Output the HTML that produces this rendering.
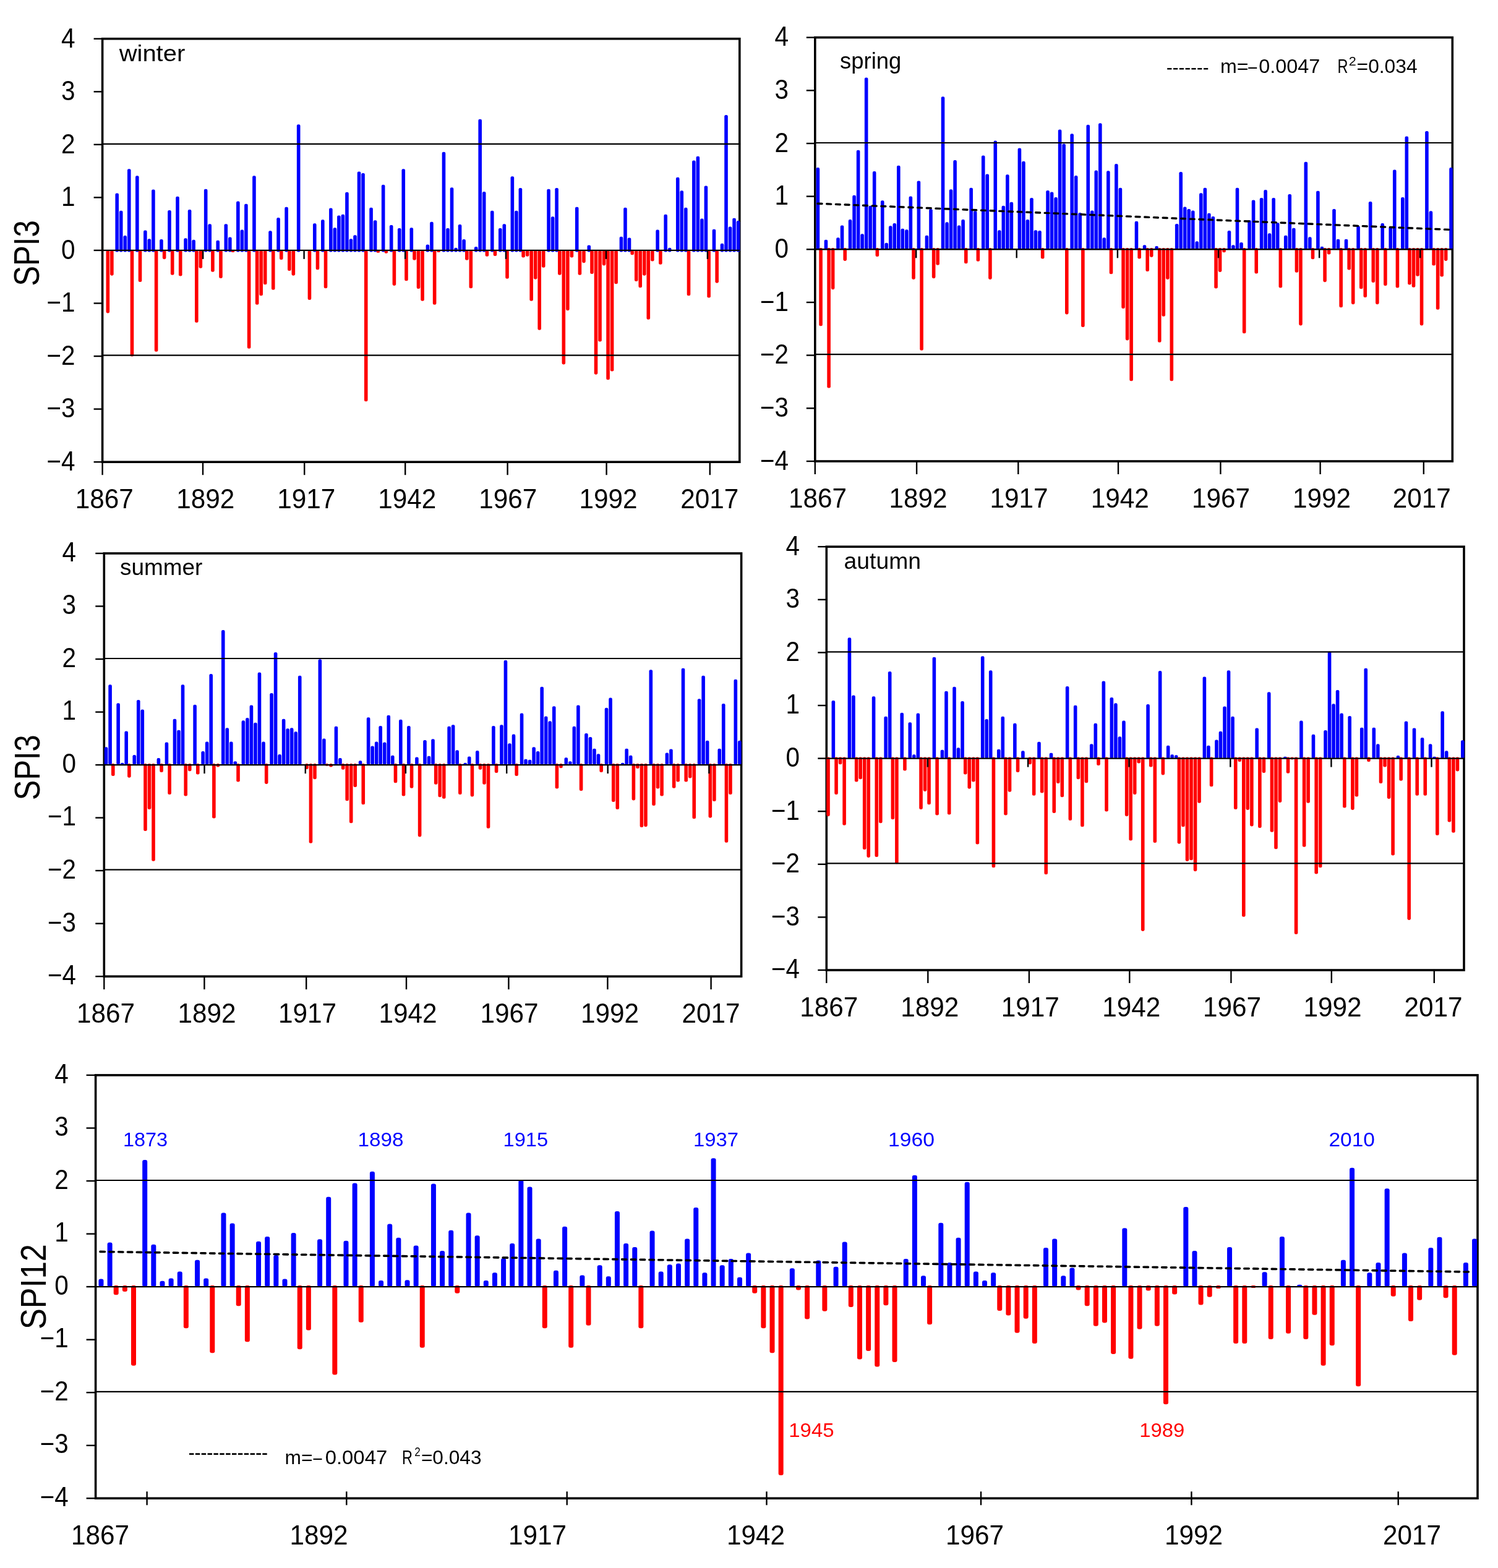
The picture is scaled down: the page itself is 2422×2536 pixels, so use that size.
<!DOCTYPE html>
<html><head><meta charset="utf-8"><title>SPI</title><style>html,body{margin:0;padding:0;background:#fff;}svg{display:block;}</style></head><body>
<svg width="2422" height="2536" viewBox="0 0 2422 2536" font-family="'Liberation Sans', Arial, sans-serif">
<rect width="2422" height="2536" fill="#fff"/>
<rect x="165.6" y="62.7" width="1030.2" height="684.5" fill="none" stroke="#000" stroke-width="3.6"/>
<rect x="171.54" y="404.95" width="5.6" height="101.46" rx="2.3" fill="#ff0000"/>
<rect x="178.06" y="404.95" width="5.6" height="40.71" rx="2.3" fill="#ff0000"/>
<rect x="186.39" y="312.54" width="5.6" height="94.91" rx="2.3" fill="#0000ff"/>
<rect x="192.91" y="340.78" width="5.6" height="66.67" rx="2.3" fill="#0000ff"/>
<rect x="199.44" y="380.99" width="5.6" height="26.46" rx="2.3" fill="#0000ff"/>
<rect x="205.96" y="273.18" width="5.6" height="134.27" rx="2.3" fill="#0000ff"/>
<rect x="210.67" y="404.95" width="5.6" height="171.63" rx="2.3" fill="#ff0000"/>
<rect x="219.00" y="284.31" width="5.6" height="123.14" rx="2.3" fill="#0000ff"/>
<rect x="223.71" y="404.95" width="5.6" height="50.98" rx="2.3" fill="#ff0000"/>
<rect x="232.05" y="372.44" width="5.6" height="35.01" rx="2.3" fill="#0000ff"/>
<rect x="238.57" y="386.13" width="5.6" height="21.32" rx="2.3" fill="#0000ff"/>
<rect x="245.09" y="306.55" width="5.6" height="100.90" rx="2.3" fill="#0000ff"/>
<rect x="249.80" y="404.95" width="5.6" height="163.92" rx="2.3" fill="#ff0000"/>
<rect x="258.13" y="386.98" width="5.6" height="20.47" rx="2.3" fill="#0000ff"/>
<rect x="262.84" y="404.95" width="5.6" height="14.19" rx="2.3" fill="#ff0000"/>
<rect x="271.18" y="339.92" width="5.6" height="67.53" rx="2.3" fill="#0000ff"/>
<rect x="275.89" y="404.95" width="5.6" height="39.86" rx="2.3" fill="#ff0000"/>
<rect x="284.22" y="317.68" width="5.6" height="89.77" rx="2.3" fill="#0000ff"/>
<rect x="288.93" y="404.95" width="5.6" height="41.57" rx="2.3" fill="#ff0000"/>
<rect x="297.27" y="385.27" width="5.6" height="22.18" rx="2.3" fill="#0000ff"/>
<rect x="303.79" y="339.07" width="5.6" height="68.38" rx="2.3" fill="#0000ff"/>
<rect x="310.31" y="387.84" width="5.6" height="19.61" rx="2.3" fill="#0000ff"/>
<rect x="315.02" y="404.95" width="5.6" height="116.87" rx="2.3" fill="#ff0000"/>
<rect x="321.54" y="404.95" width="5.6" height="28.74" rx="2.3" fill="#ff0000"/>
<rect x="329.88" y="305.70" width="5.6" height="101.75" rx="2.3" fill="#0000ff"/>
<rect x="336.40" y="362.17" width="5.6" height="45.28" rx="2.3" fill="#0000ff"/>
<rect x="341.11" y="404.95" width="5.6" height="34.73" rx="2.3" fill="#ff0000"/>
<rect x="349.44" y="388.69" width="5.6" height="18.76" rx="2.3" fill="#0000ff"/>
<rect x="354.15" y="404.95" width="5.6" height="44.99" rx="2.3" fill="#ff0000"/>
<rect x="362.49" y="362.17" width="5.6" height="45.28" rx="2.3" fill="#0000ff"/>
<rect x="369.01" y="383.56" width="5.6" height="23.89" rx="2.3" fill="#0000ff"/>
<rect x="373.72" y="404.95" width="5.6" height="3.07" rx="2.3" fill="#ff0000"/>
<rect x="382.05" y="325.38" width="5.6" height="82.07" rx="2.3" fill="#0000ff"/>
<rect x="388.57" y="371.58" width="5.6" height="35.87" rx="2.3" fill="#0000ff"/>
<rect x="395.10" y="329.65" width="5.6" height="77.80" rx="2.3" fill="#0000ff"/>
<rect x="399.81" y="404.95" width="5.6" height="158.79" rx="2.3" fill="#ff0000"/>
<rect x="408.14" y="284.31" width="5.6" height="123.14" rx="2.3" fill="#0000ff"/>
<rect x="412.85" y="404.95" width="5.6" height="87.77" rx="2.3" fill="#ff0000"/>
<rect x="419.37" y="404.95" width="5.6" height="73.23" rx="2.3" fill="#ff0000"/>
<rect x="425.89" y="404.95" width="5.6" height="55.26" rx="2.3" fill="#ff0000"/>
<rect x="434.23" y="373.29" width="5.6" height="34.16" rx="2.3" fill="#0000ff"/>
<rect x="438.94" y="404.95" width="5.6" height="63.82" rx="2.3" fill="#ff0000"/>
<rect x="447.27" y="351.90" width="5.6" height="55.55" rx="2.3" fill="#0000ff"/>
<rect x="451.98" y="404.95" width="5.6" height="15.05" rx="2.3" fill="#ff0000"/>
<rect x="460.32" y="334.79" width="5.6" height="72.66" rx="2.3" fill="#0000ff"/>
<rect x="465.03" y="404.95" width="5.6" height="33.01" rx="2.3" fill="#ff0000"/>
<rect x="471.55" y="404.95" width="5.6" height="40.71" rx="2.3" fill="#ff0000"/>
<rect x="479.88" y="201.31" width="5.6" height="206.14" rx="2.3" fill="#0000ff"/>
<rect x="497.64" y="404.95" width="5.6" height="80.07" rx="2.3" fill="#ff0000"/>
<rect x="505.97" y="361.31" width="5.6" height="46.14" rx="2.3" fill="#0000ff"/>
<rect x="510.68" y="404.95" width="5.6" height="31.30" rx="2.3" fill="#ff0000"/>
<rect x="519.01" y="355.32" width="5.6" height="52.13" rx="2.3" fill="#0000ff"/>
<rect x="523.72" y="404.95" width="5.6" height="61.25" rx="2.3" fill="#ff0000"/>
<rect x="532.06" y="336.50" width="5.6" height="70.95" rx="2.3" fill="#0000ff"/>
<rect x="538.58" y="368.16" width="5.6" height="39.29" rx="2.3" fill="#0000ff"/>
<rect x="545.10" y="348.48" width="5.6" height="58.97" rx="2.3" fill="#0000ff"/>
<rect x="551.62" y="346.77" width="5.6" height="60.68" rx="2.3" fill="#0000ff"/>
<rect x="558.15" y="310.83" width="5.6" height="96.62" rx="2.3" fill="#0000ff"/>
<rect x="564.67" y="386.13" width="5.6" height="21.32" rx="2.3" fill="#0000ff"/>
<rect x="571.19" y="380.14" width="5.6" height="27.31" rx="2.3" fill="#0000ff"/>
<rect x="577.71" y="277.46" width="5.6" height="129.99" rx="2.3" fill="#0000ff"/>
<rect x="584.23" y="280.03" width="5.6" height="127.42" rx="2.3" fill="#0000ff"/>
<rect x="588.94" y="404.95" width="5.6" height="244.35" rx="2.3" fill="#ff0000"/>
<rect x="597.28" y="335.64" width="5.6" height="71.81" rx="2.3" fill="#0000ff"/>
<rect x="603.80" y="356.18" width="5.6" height="51.27" rx="2.3" fill="#0000ff"/>
<rect x="608.51" y="404.95" width="5.6" height="3.92" rx="2.3" fill="#ff0000"/>
<rect x="616.84" y="298.85" width="5.6" height="108.60" rx="2.3" fill="#0000ff"/>
<rect x="621.55" y="404.95" width="5.6" height="4.78" rx="2.3" fill="#ff0000"/>
<rect x="629.89" y="363.88" width="5.6" height="43.57" rx="2.3" fill="#0000ff"/>
<rect x="634.60" y="404.95" width="5.6" height="56.97" rx="2.3" fill="#ff0000"/>
<rect x="642.93" y="369.01" width="5.6" height="38.44" rx="2.3" fill="#0000ff"/>
<rect x="649.45" y="273.18" width="5.6" height="134.27" rx="2.3" fill="#0000ff"/>
<rect x="654.16" y="404.95" width="5.6" height="49.27" rx="2.3" fill="#ff0000"/>
<rect x="662.50" y="368.16" width="5.6" height="39.29" rx="2.3" fill="#0000ff"/>
<rect x="667.21" y="404.95" width="5.6" height="15.90" rx="2.3" fill="#ff0000"/>
<rect x="673.73" y="404.95" width="5.6" height="62.11" rx="2.3" fill="#ff0000"/>
<rect x="680.25" y="404.95" width="5.6" height="81.78" rx="2.3" fill="#ff0000"/>
<rect x="688.59" y="395.54" width="5.6" height="11.91" rx="2.3" fill="#0000ff"/>
<rect x="695.11" y="358.75" width="5.6" height="48.70" rx="2.3" fill="#0000ff"/>
<rect x="699.82" y="404.95" width="5.6" height="87.77" rx="2.3" fill="#ff0000"/>
<rect x="706.34" y="404.95" width="5.6" height="3.07" rx="2.3" fill="#ff0000"/>
<rect x="714.67" y="245.80" width="5.6" height="161.65" rx="2.3" fill="#0000ff"/>
<rect x="721.20" y="369.01" width="5.6" height="38.44" rx="2.3" fill="#0000ff"/>
<rect x="727.72" y="303.13" width="5.6" height="104.32" rx="2.3" fill="#0000ff"/>
<rect x="734.24" y="400.67" width="5.6" height="6.78" rx="2.3" fill="#0000ff"/>
<rect x="740.76" y="363.02" width="5.6" height="44.43" rx="2.3" fill="#0000ff"/>
<rect x="747.28" y="386.98" width="5.6" height="20.47" rx="2.3" fill="#0000ff"/>
<rect x="751.99" y="404.95" width="5.6" height="15.90" rx="2.3" fill="#ff0000"/>
<rect x="758.52" y="404.95" width="5.6" height="61.25" rx="2.3" fill="#ff0000"/>
<rect x="766.85" y="398.96" width="5.6" height="8.49" rx="2.3" fill="#0000ff"/>
<rect x="773.37" y="192.75" width="5.6" height="214.69" rx="2.3" fill="#0000ff"/>
<rect x="779.89" y="309.98" width="5.6" height="97.47" rx="2.3" fill="#0000ff"/>
<rect x="784.60" y="404.95" width="5.6" height="9.91" rx="2.3" fill="#ff0000"/>
<rect x="792.94" y="340.78" width="5.6" height="66.67" rx="2.3" fill="#0000ff"/>
<rect x="797.65" y="404.95" width="5.6" height="9.06" rx="2.3" fill="#ff0000"/>
<rect x="805.98" y="369.01" width="5.6" height="38.44" rx="2.3" fill="#0000ff"/>
<rect x="812.50" y="362.17" width="5.6" height="45.28" rx="2.3" fill="#0000ff"/>
<rect x="817.21" y="404.95" width="5.6" height="45.85" rx="2.3" fill="#ff0000"/>
<rect x="825.55" y="285.16" width="5.6" height="122.29" rx="2.3" fill="#0000ff"/>
<rect x="832.07" y="340.78" width="5.6" height="66.67" rx="2.3" fill="#0000ff"/>
<rect x="838.59" y="303.99" width="5.6" height="103.46" rx="2.3" fill="#0000ff"/>
<rect x="843.30" y="404.95" width="5.6" height="11.62" rx="2.3" fill="#ff0000"/>
<rect x="849.82" y="404.95" width="5.6" height="9.91" rx="2.3" fill="#ff0000"/>
<rect x="856.35" y="404.95" width="5.6" height="81.78" rx="2.3" fill="#ff0000"/>
<rect x="862.87" y="404.95" width="5.6" height="46.70" rx="2.3" fill="#ff0000"/>
<rect x="869.39" y="404.95" width="5.6" height="128.84" rx="2.3" fill="#ff0000"/>
<rect x="875.91" y="404.95" width="5.6" height="27.88" rx="2.3" fill="#ff0000"/>
<rect x="884.25" y="305.70" width="5.6" height="101.75" rx="2.3" fill="#0000ff"/>
<rect x="890.77" y="350.19" width="5.6" height="57.26" rx="2.3" fill="#0000ff"/>
<rect x="897.29" y="303.99" width="5.6" height="103.46" rx="2.3" fill="#0000ff"/>
<rect x="902.00" y="404.95" width="5.6" height="39.86" rx="2.3" fill="#ff0000"/>
<rect x="908.52" y="404.95" width="5.6" height="184.46" rx="2.3" fill="#ff0000"/>
<rect x="915.04" y="404.95" width="5.6" height="97.19" rx="2.3" fill="#ff0000"/>
<rect x="921.57" y="404.95" width="5.6" height="11.62" rx="2.3" fill="#ff0000"/>
<rect x="929.90" y="334.79" width="5.6" height="72.66" rx="2.3" fill="#0000ff"/>
<rect x="934.61" y="404.95" width="5.6" height="39.86" rx="2.3" fill="#ff0000"/>
<rect x="941.13" y="404.95" width="5.6" height="20.18" rx="2.3" fill="#ff0000"/>
<rect x="949.47" y="396.39" width="5.6" height="11.06" rx="2.3" fill="#0000ff"/>
<rect x="954.18" y="404.95" width="5.6" height="38.15" rx="2.3" fill="#ff0000"/>
<rect x="960.70" y="404.95" width="5.6" height="200.72" rx="2.3" fill="#ff0000"/>
<rect x="967.22" y="404.95" width="5.6" height="147.67" rx="2.3" fill="#ff0000"/>
<rect x="973.74" y="404.95" width="5.6" height="24.46" rx="2.3" fill="#ff0000"/>
<rect x="980.26" y="404.95" width="5.6" height="209.27" rx="2.3" fill="#ff0000"/>
<rect x="986.79" y="404.95" width="5.6" height="195.58" rx="2.3" fill="#ff0000"/>
<rect x="993.31" y="404.95" width="5.6" height="54.40" rx="2.3" fill="#ff0000"/>
<rect x="1001.64" y="382.70" width="5.6" height="24.75" rx="2.3" fill="#0000ff"/>
<rect x="1008.16" y="335.64" width="5.6" height="71.81" rx="2.3" fill="#0000ff"/>
<rect x="1014.69" y="384.41" width="5.6" height="23.04" rx="2.3" fill="#0000ff"/>
<rect x="1019.40" y="404.95" width="5.6" height="7.35" rx="2.3" fill="#ff0000"/>
<rect x="1025.92" y="404.95" width="5.6" height="50.13" rx="2.3" fill="#ff0000"/>
<rect x="1032.44" y="404.95" width="5.6" height="60.39" rx="2.3" fill="#ff0000"/>
<rect x="1038.96" y="404.95" width="5.6" height="40.71" rx="2.3" fill="#ff0000"/>
<rect x="1045.48" y="404.95" width="5.6" height="111.73" rx="2.3" fill="#ff0000"/>
<rect x="1052.01" y="404.95" width="5.6" height="17.61" rx="2.3" fill="#ff0000"/>
<rect x="1060.34" y="371.58" width="5.6" height="35.87" rx="2.3" fill="#0000ff"/>
<rect x="1065.05" y="404.95" width="5.6" height="22.75" rx="2.3" fill="#ff0000"/>
<rect x="1073.38" y="346.77" width="5.6" height="60.68" rx="2.3" fill="#0000ff"/>
<rect x="1079.91" y="400.67" width="5.6" height="6.78" rx="2.3" fill="#0000ff"/>
<rect x="1092.95" y="286.87" width="5.6" height="120.58" rx="2.3" fill="#0000ff"/>
<rect x="1099.47" y="308.26" width="5.6" height="99.19" rx="2.3" fill="#0000ff"/>
<rect x="1105.99" y="335.64" width="5.6" height="71.81" rx="2.3" fill="#0000ff"/>
<rect x="1110.70" y="404.95" width="5.6" height="73.23" rx="2.3" fill="#ff0000"/>
<rect x="1119.04" y="259.49" width="5.6" height="147.96" rx="2.3" fill="#0000ff"/>
<rect x="1125.56" y="252.65" width="5.6" height="154.80" rx="2.3" fill="#0000ff"/>
<rect x="1132.08" y="353.61" width="5.6" height="53.84" rx="2.3" fill="#0000ff"/>
<rect x="1138.60" y="300.56" width="5.6" height="106.89" rx="2.3" fill="#0000ff"/>
<rect x="1143.31" y="404.95" width="5.6" height="76.65" rx="2.3" fill="#ff0000"/>
<rect x="1151.65" y="370.72" width="5.6" height="36.73" rx="2.3" fill="#0000ff"/>
<rect x="1156.36" y="404.95" width="5.6" height="52.69" rx="2.3" fill="#ff0000"/>
<rect x="1164.69" y="393.83" width="5.6" height="13.62" rx="2.3" fill="#0000ff"/>
<rect x="1171.21" y="185.91" width="5.6" height="221.54" rx="2.3" fill="#0000ff"/>
<rect x="1177.74" y="366.45" width="5.6" height="41.00" rx="2.3" fill="#0000ff"/>
<rect x="1184.26" y="352.76" width="5.6" height="54.69" rx="2.3" fill="#0000ff"/>
<rect x="1190.78" y="357.03" width="5.6" height="50.42" rx="2.3" fill="#0000ff"/>
<line x1="165.6" y1="232.8" x2="1195.8" y2="232.8" stroke="#000" stroke-width="2.2"/>
<line x1="165.6" y1="574.7" x2="1195.8" y2="574.7" stroke="#000" stroke-width="2.2"/>
<line x1="165.6" y1="404.9" x2="1195.8" y2="404.9" stroke="#000" stroke-width="2.4"/>
<line x1="328.2" y1="404.9" x2="328.2" y2="418.9" stroke="#000" stroke-width="2.4"/>
<line x1="491.6" y1="404.9" x2="491.6" y2="418.9" stroke="#000" stroke-width="2.4"/>
<line x1="655.1" y1="404.9" x2="655.1" y2="418.9" stroke="#000" stroke-width="2.4"/>
<line x1="817.9" y1="404.9" x2="817.9" y2="418.9" stroke="#000" stroke-width="2.4"/>
<line x1="980.0" y1="404.9" x2="980.0" y2="418.9" stroke="#000" stroke-width="2.4"/>
<line x1="1143.9" y1="404.9" x2="1143.9" y2="418.9" stroke="#000" stroke-width="2.4"/>
<line x1="151.6" y1="747.2" x2="165.6" y2="747.2" stroke="#000" stroke-width="2.4"/>
<text x="121.5" y="761.0" font-size="43.8" text-anchor="end" fill="#000" textLength="46.0" lengthAdjust="spacingAndGlyphs">−4</text>
<line x1="151.6" y1="661.6" x2="165.6" y2="661.6" stroke="#000" stroke-width="2.4"/>
<text x="121.5" y="675.4" font-size="43.8" text-anchor="end" fill="#000" textLength="46.0" lengthAdjust="spacingAndGlyphs">−3</text>
<line x1="151.6" y1="576.1" x2="165.6" y2="576.1" stroke="#000" stroke-width="2.4"/>
<text x="121.5" y="589.9" font-size="43.8" text-anchor="end" fill="#000" textLength="46.0" lengthAdjust="spacingAndGlyphs">−2</text>
<line x1="151.6" y1="490.5" x2="165.6" y2="490.5" stroke="#000" stroke-width="2.4"/>
<text x="121.5" y="504.3" font-size="43.8" text-anchor="end" fill="#000" textLength="46.0" lengthAdjust="spacingAndGlyphs">−1</text>
<line x1="151.6" y1="404.9" x2="165.6" y2="404.9" stroke="#000" stroke-width="2.4"/>
<text x="121.5" y="418.8" font-size="43.8" text-anchor="end" fill="#000" textLength="22.5" lengthAdjust="spacingAndGlyphs">0</text>
<line x1="151.6" y1="319.4" x2="165.6" y2="319.4" stroke="#000" stroke-width="2.4"/>
<text x="121.5" y="333.2" font-size="43.8" text-anchor="end" fill="#000" textLength="22.5" lengthAdjust="spacingAndGlyphs">1</text>
<line x1="151.6" y1="233.8" x2="165.6" y2="233.8" stroke="#000" stroke-width="2.4"/>
<text x="121.5" y="247.6" font-size="43.8" text-anchor="end" fill="#000" textLength="22.5" lengthAdjust="spacingAndGlyphs">2</text>
<line x1="151.6" y1="148.3" x2="165.6" y2="148.3" stroke="#000" stroke-width="2.4"/>
<text x="121.5" y="162.1" font-size="43.8" text-anchor="end" fill="#000" textLength="22.5" lengthAdjust="spacingAndGlyphs">3</text>
<line x1="151.6" y1="62.7" x2="165.6" y2="62.7" stroke="#000" stroke-width="2.4"/>
<text x="121.5" y="76.5" font-size="43.8" text-anchor="end" fill="#000" textLength="22.5" lengthAdjust="spacingAndGlyphs">4</text>
<line x1="165.6" y1="747.2" x2="165.6" y2="768.2" stroke="#000" stroke-width="2.4"/>
<line x1="328.0" y1="747.2" x2="328.0" y2="768.2" stroke="#000" stroke-width="2.4"/>
<line x1="492.2" y1="747.2" x2="492.2" y2="768.2" stroke="#000" stroke-width="2.4"/>
<line x1="655.2" y1="747.2" x2="655.2" y2="768.2" stroke="#000" stroke-width="2.4"/>
<line x1="820.6" y1="747.2" x2="820.6" y2="768.2" stroke="#000" stroke-width="2.4"/>
<line x1="980.6" y1="747.2" x2="980.6" y2="768.2" stroke="#000" stroke-width="2.4"/>
<line x1="1147.8" y1="747.2" x2="1147.8" y2="768.2" stroke="#000" stroke-width="2.4"/>
<text x="168.7" y="822.0" font-size="43.8" text-anchor="middle" fill="#000" textLength="94.0" lengthAdjust="spacingAndGlyphs">1867</text>
<text x="332.2" y="822.0" font-size="43.8" text-anchor="middle" fill="#000" textLength="94.0" lengthAdjust="spacingAndGlyphs">1892</text>
<text x="495.2" y="822.0" font-size="43.8" text-anchor="middle" fill="#000" textLength="94.0" lengthAdjust="spacingAndGlyphs">1917</text>
<text x="658.2" y="822.0" font-size="43.8" text-anchor="middle" fill="#000" textLength="94.0" lengthAdjust="spacingAndGlyphs">1942</text>
<text x="821.2" y="822.0" font-size="43.8" text-anchor="middle" fill="#000" textLength="94.0" lengthAdjust="spacingAndGlyphs">1967</text>
<text x="983.6" y="822.0" font-size="43.8" text-anchor="middle" fill="#000" textLength="94.0" lengthAdjust="spacingAndGlyphs">1992</text>
<text x="1147.2" y="822.0" font-size="43.8" text-anchor="middle" fill="#000" textLength="94.0" lengthAdjust="spacingAndGlyphs">2017</text>
<rect x="1317.8" y="60.6" width="1030.5" height="685.4" fill="none" stroke="#000" stroke-width="3.6"/>
<rect x="1319.60" y="271.12" width="5.6" height="132.18" rx="2.3" fill="#0000ff"/>
<rect x="1324.27" y="401.10" width="5.6" height="126.17" rx="2.3" fill="#ff0000"/>
<rect x="1332.64" y="387.64" width="5.6" height="15.66" rx="2.3" fill="#0000ff"/>
<rect x="1337.31" y="401.10" width="5.6" height="226.41" rx="2.3" fill="#ff0000"/>
<rect x="1343.83" y="401.10" width="5.6" height="67.06" rx="2.3" fill="#ff0000"/>
<rect x="1352.20" y="384.21" width="5.6" height="19.09" rx="2.3" fill="#0000ff"/>
<rect x="1358.72" y="364.50" width="5.6" height="38.80" rx="2.3" fill="#0000ff"/>
<rect x="1363.39" y="401.10" width="5.6" height="20.79" rx="2.3" fill="#ff0000"/>
<rect x="1371.76" y="355.08" width="5.6" height="48.22" rx="2.3" fill="#0000ff"/>
<rect x="1378.28" y="315.67" width="5.6" height="87.63" rx="2.3" fill="#0000ff"/>
<rect x="1384.80" y="242.84" width="5.6" height="160.46" rx="2.3" fill="#0000ff"/>
<rect x="1391.32" y="378.21" width="5.6" height="25.09" rx="2.3" fill="#0000ff"/>
<rect x="1397.84" y="125.47" width="5.6" height="277.83" rx="2.3" fill="#0000ff"/>
<rect x="1404.36" y="332.80" width="5.6" height="70.50" rx="2.3" fill="#0000ff"/>
<rect x="1410.88" y="277.11" width="5.6" height="126.19" rx="2.3" fill="#0000ff"/>
<rect x="1415.55" y="401.10" width="5.6" height="13.94" rx="2.3" fill="#ff0000"/>
<rect x="1423.92" y="324.24" width="5.6" height="79.06" rx="2.3" fill="#0000ff"/>
<rect x="1430.44" y="392.78" width="5.6" height="10.52" rx="2.3" fill="#0000ff"/>
<rect x="1436.96" y="365.36" width="5.6" height="37.94" rx="2.3" fill="#0000ff"/>
<rect x="1443.48" y="361.08" width="5.6" height="42.22" rx="2.3" fill="#0000ff"/>
<rect x="1450.00" y="267.69" width="5.6" height="135.61" rx="2.3" fill="#0000ff"/>
<rect x="1456.52" y="369.64" width="5.6" height="33.66" rx="2.3" fill="#0000ff"/>
<rect x="1463.04" y="371.36" width="5.6" height="31.94" rx="2.3" fill="#0000ff"/>
<rect x="1469.56" y="317.38" width="5.6" height="85.92" rx="2.3" fill="#0000ff"/>
<rect x="1474.23" y="401.10" width="5.6" height="50.78" rx="2.3" fill="#ff0000"/>
<rect x="1482.60" y="292.54" width="5.6" height="110.76" rx="2.3" fill="#0000ff"/>
<rect x="1487.27" y="401.10" width="5.6" height="165.58" rx="2.3" fill="#ff0000"/>
<rect x="1495.64" y="380.78" width="5.6" height="22.52" rx="2.3" fill="#0000ff"/>
<rect x="1502.16" y="337.94" width="5.6" height="65.36" rx="2.3" fill="#0000ff"/>
<rect x="1506.83" y="401.10" width="5.6" height="49.06" rx="2.3" fill="#ff0000"/>
<rect x="1513.35" y="401.10" width="5.6" height="27.65" rx="2.3" fill="#ff0000"/>
<rect x="1521.72" y="156.31" width="5.6" height="246.99" rx="2.3" fill="#0000ff"/>
<rect x="1528.24" y="359.36" width="5.6" height="43.94" rx="2.3" fill="#0000ff"/>
<rect x="1534.76" y="306.24" width="5.6" height="97.06" rx="2.3" fill="#0000ff"/>
<rect x="1541.28" y="259.12" width="5.6" height="144.18" rx="2.3" fill="#0000ff"/>
<rect x="1547.80" y="364.50" width="5.6" height="38.80" rx="2.3" fill="#0000ff"/>
<rect x="1554.32" y="355.08" width="5.6" height="48.22" rx="2.3" fill="#0000ff"/>
<rect x="1558.99" y="401.10" width="5.6" height="25.08" rx="2.3" fill="#ff0000"/>
<rect x="1567.36" y="303.67" width="5.6" height="99.63" rx="2.3" fill="#0000ff"/>
<rect x="1573.88" y="341.37" width="5.6" height="61.93" rx="2.3" fill="#0000ff"/>
<rect x="1578.55" y="401.10" width="5.6" height="21.65" rx="2.3" fill="#ff0000"/>
<rect x="1586.92" y="251.41" width="5.6" height="151.89" rx="2.3" fill="#0000ff"/>
<rect x="1593.44" y="281.40" width="5.6" height="121.90" rx="2.3" fill="#0000ff"/>
<rect x="1598.11" y="401.10" width="5.6" height="50.78" rx="2.3" fill="#ff0000"/>
<rect x="1606.48" y="227.42" width="5.6" height="175.88" rx="2.3" fill="#0000ff"/>
<rect x="1613.00" y="372.21" width="5.6" height="31.09" rx="2.3" fill="#0000ff"/>
<rect x="1619.52" y="332.80" width="5.6" height="70.50" rx="2.3" fill="#0000ff"/>
<rect x="1626.04" y="282.25" width="5.6" height="121.05" rx="2.3" fill="#0000ff"/>
<rect x="1632.56" y="326.81" width="5.6" height="76.49" rx="2.3" fill="#0000ff"/>
<rect x="1645.60" y="239.42" width="5.6" height="163.88" rx="2.3" fill="#0000ff"/>
<rect x="1652.12" y="260.84" width="5.6" height="142.46" rx="2.3" fill="#0000ff"/>
<rect x="1658.64" y="355.08" width="5.6" height="48.22" rx="2.3" fill="#0000ff"/>
<rect x="1665.16" y="319.95" width="5.6" height="83.35" rx="2.3" fill="#0000ff"/>
<rect x="1671.68" y="372.21" width="5.6" height="31.09" rx="2.3" fill="#0000ff"/>
<rect x="1678.20" y="373.07" width="5.6" height="30.23" rx="2.3" fill="#0000ff"/>
<rect x="1682.87" y="401.10" width="5.6" height="17.36" rx="2.3" fill="#ff0000"/>
<rect x="1691.24" y="307.96" width="5.6" height="95.34" rx="2.3" fill="#0000ff"/>
<rect x="1697.76" y="310.53" width="5.6" height="92.77" rx="2.3" fill="#0000ff"/>
<rect x="1704.28" y="319.10" width="5.6" height="84.20" rx="2.3" fill="#0000ff"/>
<rect x="1710.80" y="209.43" width="5.6" height="193.87" rx="2.3" fill="#0000ff"/>
<rect x="1717.32" y="232.56" width="5.6" height="170.74" rx="2.3" fill="#0000ff"/>
<rect x="1721.99" y="401.10" width="5.6" height="107.32" rx="2.3" fill="#ff0000"/>
<rect x="1730.36" y="216.29" width="5.6" height="187.01" rx="2.3" fill="#0000ff"/>
<rect x="1736.88" y="283.97" width="5.6" height="119.33" rx="2.3" fill="#0000ff"/>
<rect x="1743.40" y="343.94" width="5.6" height="59.36" rx="2.3" fill="#0000ff"/>
<rect x="1748.07" y="401.10" width="5.6" height="127.89" rx="2.3" fill="#ff0000"/>
<rect x="1756.44" y="201.72" width="5.6" height="201.58" rx="2.3" fill="#0000ff"/>
<rect x="1762.96" y="340.51" width="5.6" height="62.79" rx="2.3" fill="#0000ff"/>
<rect x="1769.48" y="275.40" width="5.6" height="127.90" rx="2.3" fill="#0000ff"/>
<rect x="1776.00" y="199.15" width="5.6" height="204.15" rx="2.3" fill="#0000ff"/>
<rect x="1782.52" y="384.21" width="5.6" height="19.09" rx="2.3" fill="#0000ff"/>
<rect x="1789.04" y="276.26" width="5.6" height="127.04" rx="2.3" fill="#0000ff"/>
<rect x="1793.71" y="401.10" width="5.6" height="42.21" rx="2.3" fill="#ff0000"/>
<rect x="1802.08" y="265.12" width="5.6" height="138.18" rx="2.3" fill="#0000ff"/>
<rect x="1808.60" y="303.67" width="5.6" height="99.63" rx="2.3" fill="#0000ff"/>
<rect x="1813.27" y="401.10" width="5.6" height="97.90" rx="2.3" fill="#ff0000"/>
<rect x="1819.79" y="401.10" width="5.6" height="149.30" rx="2.3" fill="#ff0000"/>
<rect x="1826.31" y="401.10" width="5.6" height="215.27" rx="2.3" fill="#ff0000"/>
<rect x="1834.68" y="357.65" width="5.6" height="45.65" rx="2.3" fill="#0000ff"/>
<rect x="1839.35" y="401.10" width="5.6" height="17.36" rx="2.3" fill="#ff0000"/>
<rect x="1847.72" y="396.20" width="5.6" height="7.10" rx="2.3" fill="#0000ff"/>
<rect x="1852.39" y="401.10" width="5.6" height="37.93" rx="2.3" fill="#ff0000"/>
<rect x="1858.91" y="401.10" width="5.6" height="14.79" rx="2.3" fill="#ff0000"/>
<rect x="1867.28" y="397.92" width="5.6" height="5.38" rx="2.3" fill="#0000ff"/>
<rect x="1871.95" y="401.10" width="5.6" height="152.73" rx="2.3" fill="#ff0000"/>
<rect x="1878.47" y="401.10" width="5.6" height="110.75" rx="2.3" fill="#ff0000"/>
<rect x="1884.99" y="401.10" width="5.6" height="50.78" rx="2.3" fill="#ff0000"/>
<rect x="1891.51" y="401.10" width="5.6" height="215.27" rx="2.3" fill="#ff0000"/>
<rect x="1899.88" y="361.93" width="5.6" height="41.37" rx="2.3" fill="#0000ff"/>
<rect x="1906.40" y="277.97" width="5.6" height="125.33" rx="2.3" fill="#0000ff"/>
<rect x="1912.92" y="334.52" width="5.6" height="68.78" rx="2.3" fill="#0000ff"/>
<rect x="1919.44" y="337.94" width="5.6" height="65.36" rx="2.3" fill="#0000ff"/>
<rect x="1925.96" y="340.51" width="5.6" height="62.79" rx="2.3" fill="#0000ff"/>
<rect x="1932.48" y="390.21" width="5.6" height="13.09" rx="2.3" fill="#0000ff"/>
<rect x="1939.00" y="312.24" width="5.6" height="91.06" rx="2.3" fill="#0000ff"/>
<rect x="1945.52" y="303.67" width="5.6" height="99.63" rx="2.3" fill="#0000ff"/>
<rect x="1952.04" y="344.80" width="5.6" height="58.50" rx="2.3" fill="#0000ff"/>
<rect x="1958.56" y="349.94" width="5.6" height="53.36" rx="2.3" fill="#0000ff"/>
<rect x="1963.23" y="401.10" width="5.6" height="65.34" rx="2.3" fill="#ff0000"/>
<rect x="1969.75" y="401.10" width="5.6" height="38.78" rx="2.3" fill="#ff0000"/>
<rect x="1976.27" y="401.10" width="5.6" height="7.08" rx="2.3" fill="#ff0000"/>
<rect x="1984.64" y="373.07" width="5.6" height="30.23" rx="2.3" fill="#0000ff"/>
<rect x="1991.16" y="396.20" width="5.6" height="7.10" rx="2.3" fill="#0000ff"/>
<rect x="1997.68" y="303.67" width="5.6" height="99.63" rx="2.3" fill="#0000ff"/>
<rect x="2004.20" y="391.92" width="5.6" height="11.38" rx="2.3" fill="#0000ff"/>
<rect x="2008.87" y="401.10" width="5.6" height="138.17" rx="2.3" fill="#ff0000"/>
<rect x="2017.24" y="355.94" width="5.6" height="47.36" rx="2.3" fill="#0000ff"/>
<rect x="2023.76" y="323.38" width="5.6" height="79.92" rx="2.3" fill="#0000ff"/>
<rect x="2028.43" y="401.10" width="5.6" height="41.35" rx="2.3" fill="#ff0000"/>
<rect x="2036.80" y="319.95" width="5.6" height="83.35" rx="2.3" fill="#0000ff"/>
<rect x="2043.32" y="307.10" width="5.6" height="96.20" rx="2.3" fill="#0000ff"/>
<rect x="2049.84" y="377.35" width="5.6" height="25.95" rx="2.3" fill="#0000ff"/>
<rect x="2056.36" y="319.95" width="5.6" height="83.35" rx="2.3" fill="#0000ff"/>
<rect x="2062.88" y="360.22" width="5.6" height="43.08" rx="2.3" fill="#0000ff"/>
<rect x="2067.55" y="401.10" width="5.6" height="64.49" rx="2.3" fill="#ff0000"/>
<rect x="2075.92" y="380.78" width="5.6" height="22.52" rx="2.3" fill="#0000ff"/>
<rect x="2082.44" y="313.95" width="5.6" height="89.35" rx="2.3" fill="#0000ff"/>
<rect x="2088.96" y="368.79" width="5.6" height="34.51" rx="2.3" fill="#0000ff"/>
<rect x="2093.63" y="401.10" width="5.6" height="39.64" rx="2.3" fill="#ff0000"/>
<rect x="2100.15" y="401.10" width="5.6" height="125.32" rx="2.3" fill="#ff0000"/>
<rect x="2108.52" y="261.69" width="5.6" height="141.61" rx="2.3" fill="#0000ff"/>
<rect x="2115.04" y="383.35" width="5.6" height="19.95" rx="2.3" fill="#0000ff"/>
<rect x="2119.71" y="401.10" width="5.6" height="18.22" rx="2.3" fill="#ff0000"/>
<rect x="2128.08" y="308.81" width="5.6" height="94.49" rx="2.3" fill="#0000ff"/>
<rect x="2134.60" y="398.77" width="5.6" height="4.53" rx="2.3" fill="#0000ff"/>
<rect x="2139.27" y="401.10" width="5.6" height="55.06" rx="2.3" fill="#ff0000"/>
<rect x="2145.79" y="401.10" width="5.6" height="10.51" rx="2.3" fill="#ff0000"/>
<rect x="2154.16" y="337.94" width="5.6" height="65.36" rx="2.3" fill="#0000ff"/>
<rect x="2160.68" y="386.78" width="5.6" height="16.52" rx="2.3" fill="#0000ff"/>
<rect x="2165.35" y="401.10" width="5.6" height="96.19" rx="2.3" fill="#ff0000"/>
<rect x="2173.72" y="386.78" width="5.6" height="16.52" rx="2.3" fill="#0000ff"/>
<rect x="2178.39" y="401.10" width="5.6" height="35.36" rx="2.3" fill="#ff0000"/>
<rect x="2184.91" y="401.10" width="5.6" height="91.05" rx="2.3" fill="#ff0000"/>
<rect x="2193.28" y="365.36" width="5.6" height="37.94" rx="2.3" fill="#0000ff"/>
<rect x="2197.95" y="401.10" width="5.6" height="66.20" rx="2.3" fill="#ff0000"/>
<rect x="2204.47" y="401.10" width="5.6" height="79.91" rx="2.3" fill="#ff0000"/>
<rect x="2212.84" y="325.95" width="5.6" height="77.35" rx="2.3" fill="#0000ff"/>
<rect x="2217.51" y="401.10" width="5.6" height="55.92" rx="2.3" fill="#ff0000"/>
<rect x="2224.03" y="401.10" width="5.6" height="91.05" rx="2.3" fill="#ff0000"/>
<rect x="2232.40" y="361.08" width="5.6" height="42.22" rx="2.3" fill="#0000ff"/>
<rect x="2237.07" y="401.10" width="5.6" height="61.06" rx="2.3" fill="#ff0000"/>
<rect x="2245.44" y="367.07" width="5.6" height="36.23" rx="2.3" fill="#0000ff"/>
<rect x="2251.96" y="274.54" width="5.6" height="128.76" rx="2.3" fill="#0000ff"/>
<rect x="2256.63" y="401.10" width="5.6" height="64.49" rx="2.3" fill="#ff0000"/>
<rect x="2265.00" y="319.10" width="5.6" height="84.20" rx="2.3" fill="#0000ff"/>
<rect x="2271.52" y="220.57" width="5.6" height="182.73" rx="2.3" fill="#0000ff"/>
<rect x="2276.19" y="401.10" width="5.6" height="59.35" rx="2.3" fill="#ff0000"/>
<rect x="2282.71" y="401.10" width="5.6" height="63.63" rx="2.3" fill="#ff0000"/>
<rect x="2289.23" y="401.10" width="5.6" height="45.64" rx="2.3" fill="#ff0000"/>
<rect x="2295.75" y="401.10" width="5.6" height="125.32" rx="2.3" fill="#ff0000"/>
<rect x="2304.12" y="212.00" width="5.6" height="191.30" rx="2.3" fill="#0000ff"/>
<rect x="2310.64" y="341.37" width="5.6" height="61.93" rx="2.3" fill="#0000ff"/>
<rect x="2315.31" y="401.10" width="5.6" height="28.50" rx="2.3" fill="#ff0000"/>
<rect x="2321.83" y="401.10" width="5.6" height="99.61" rx="2.3" fill="#ff0000"/>
<rect x="2328.35" y="401.10" width="5.6" height="46.49" rx="2.3" fill="#ff0000"/>
<rect x="2334.87" y="401.10" width="5.6" height="20.79" rx="2.3" fill="#ff0000"/>
<rect x="2343.24" y="271.12" width="5.6" height="132.18" rx="2.3" fill="#0000ff"/>
<line x1="1317.8" y1="231.0" x2="2348.3" y2="231.0" stroke="#000" stroke-width="2.2"/>
<line x1="1317.8" y1="573.2" x2="2348.3" y2="573.2" stroke="#000" stroke-width="2.2"/>
<line x1="1317.8" y1="403.3" x2="2348.3" y2="403.3" stroke="#000" stroke-width="2.4"/>
<line x1="1481.2" y1="403.3" x2="1481.2" y2="417.3" stroke="#000" stroke-width="2.4"/>
<line x1="1643.7" y1="403.3" x2="1643.7" y2="417.3" stroke="#000" stroke-width="2.4"/>
<line x1="1806.9" y1="403.3" x2="1806.9" y2="417.3" stroke="#000" stroke-width="2.4"/>
<line x1="1970.0" y1="403.3" x2="1970.0" y2="417.3" stroke="#000" stroke-width="2.4"/>
<line x1="2133.1" y1="403.3" x2="2133.1" y2="417.3" stroke="#000" stroke-width="2.4"/>
<line x1="2296.2" y1="403.3" x2="2296.2" y2="417.3" stroke="#000" stroke-width="2.4"/>
<line x1="1303.8" y1="746.0" x2="1317.8" y2="746.0" stroke="#000" stroke-width="2.4"/>
<text x="1275.0" y="759.6" font-size="43.8" text-anchor="end" fill="#000" textLength="46.0" lengthAdjust="spacingAndGlyphs">−4</text>
<line x1="1303.8" y1="660.3" x2="1317.8" y2="660.3" stroke="#000" stroke-width="2.4"/>
<text x="1275.0" y="673.9" font-size="43.8" text-anchor="end" fill="#000" textLength="46.0" lengthAdjust="spacingAndGlyphs">−3</text>
<line x1="1303.8" y1="574.6" x2="1317.8" y2="574.6" stroke="#000" stroke-width="2.4"/>
<text x="1275.0" y="588.2" font-size="43.8" text-anchor="end" fill="#000" textLength="46.0" lengthAdjust="spacingAndGlyphs">−2</text>
<line x1="1303.8" y1="489.0" x2="1317.8" y2="489.0" stroke="#000" stroke-width="2.4"/>
<text x="1275.0" y="502.6" font-size="43.8" text-anchor="end" fill="#000" textLength="46.0" lengthAdjust="spacingAndGlyphs">−1</text>
<line x1="1303.8" y1="403.3" x2="1317.8" y2="403.3" stroke="#000" stroke-width="2.4"/>
<text x="1275.0" y="416.9" font-size="43.8" text-anchor="end" fill="#000" textLength="22.5" lengthAdjust="spacingAndGlyphs">0</text>
<line x1="1303.8" y1="317.6" x2="1317.8" y2="317.6" stroke="#000" stroke-width="2.4"/>
<text x="1275.0" y="331.2" font-size="43.8" text-anchor="end" fill="#000" textLength="22.5" lengthAdjust="spacingAndGlyphs">1</text>
<line x1="1303.8" y1="232.0" x2="1317.8" y2="232.0" stroke="#000" stroke-width="2.4"/>
<text x="1275.0" y="245.6" font-size="43.8" text-anchor="end" fill="#000" textLength="22.5" lengthAdjust="spacingAndGlyphs">2</text>
<line x1="1303.8" y1="146.3" x2="1317.8" y2="146.3" stroke="#000" stroke-width="2.4"/>
<text x="1275.0" y="159.9" font-size="43.8" text-anchor="end" fill="#000" textLength="22.5" lengthAdjust="spacingAndGlyphs">3</text>
<line x1="1303.8" y1="60.6" x2="1317.8" y2="60.6" stroke="#000" stroke-width="2.4"/>
<text x="1275.0" y="74.2" font-size="43.8" text-anchor="end" fill="#000" textLength="22.5" lengthAdjust="spacingAndGlyphs">4</text>
<line x1="1317.8" y1="746.0" x2="1317.8" y2="767.0" stroke="#000" stroke-width="2.4"/>
<line x1="1482.1" y1="746.0" x2="1482.1" y2="767.0" stroke="#000" stroke-width="2.4"/>
<line x1="1646.3" y1="746.0" x2="1646.3" y2="767.0" stroke="#000" stroke-width="2.4"/>
<line x1="1808.0" y1="746.0" x2="1808.0" y2="767.0" stroke="#000" stroke-width="2.4"/>
<line x1="1973.4" y1="746.0" x2="1973.4" y2="767.0" stroke="#000" stroke-width="2.4"/>
<line x1="2134.6" y1="746.0" x2="2134.6" y2="767.0" stroke="#000" stroke-width="2.4"/>
<line x1="2301.8" y1="746.0" x2="2301.8" y2="767.0" stroke="#000" stroke-width="2.4"/>
<text x="1322.1" y="820.6" font-size="43.8" text-anchor="middle" fill="#000" textLength="94.0" lengthAdjust="spacingAndGlyphs">1867</text>
<text x="1484.5" y="820.6" font-size="43.8" text-anchor="middle" fill="#000" textLength="94.0" lengthAdjust="spacingAndGlyphs">1892</text>
<text x="1647.4" y="820.6" font-size="43.8" text-anchor="middle" fill="#000" textLength="94.0" lengthAdjust="spacingAndGlyphs">1917</text>
<text x="1810.8" y="820.6" font-size="43.8" text-anchor="middle" fill="#000" textLength="94.0" lengthAdjust="spacingAndGlyphs">1942</text>
<text x="1974.0" y="820.6" font-size="43.8" text-anchor="middle" fill="#000" textLength="94.0" lengthAdjust="spacingAndGlyphs">1967</text>
<text x="2137.0" y="820.6" font-size="43.8" text-anchor="middle" fill="#000" textLength="94.0" lengthAdjust="spacingAndGlyphs">1992</text>
<text x="2298.8" y="820.6" font-size="43.8" text-anchor="middle" fill="#000" textLength="94.0" lengthAdjust="spacingAndGlyphs">2017</text>
<rect x="168.3" y="895.0" width="1030.3" height="684.2" fill="none" stroke="#000" stroke-width="3.6"/>
<rect x="168.77" y="1208.13" width="5.6" height="28.97" rx="2.3" fill="#0000ff"/>
<rect x="175.29" y="1107.21" width="5.6" height="129.89" rx="2.3" fill="#0000ff"/>
<rect x="179.98" y="1234.90" width="5.6" height="20.16" rx="2.3" fill="#ff0000"/>
<rect x="188.34" y="1137.15" width="5.6" height="99.95" rx="2.3" fill="#0000ff"/>
<rect x="194.86" y="1233.79" width="5.6" height="3.31" rx="2.3" fill="#0000ff"/>
<rect x="201.39" y="1182.47" width="5.6" height="54.63" rx="2.3" fill="#0000ff"/>
<rect x="206.08" y="1234.90" width="5.6" height="22.73" rx="2.3" fill="#ff0000"/>
<rect x="214.44" y="1220.96" width="5.6" height="16.14" rx="2.3" fill="#0000ff"/>
<rect x="220.96" y="1132.01" width="5.6" height="105.09" rx="2.3" fill="#0000ff"/>
<rect x="227.48" y="1147.41" width="5.6" height="89.69" rx="2.3" fill="#0000ff"/>
<rect x="232.17" y="1234.90" width="5.6" height="109.11" rx="2.3" fill="#ff0000"/>
<rect x="238.70" y="1234.90" width="5.6" height="74.04" rx="2.3" fill="#ff0000"/>
<rect x="245.22" y="1234.90" width="5.6" height="157.86" rx="2.3" fill="#ff0000"/>
<rect x="253.58" y="1226.09" width="5.6" height="11.01" rx="2.3" fill="#0000ff"/>
<rect x="258.27" y="1234.90" width="5.6" height="14.17" rx="2.3" fill="#ff0000"/>
<rect x="266.63" y="1200.43" width="5.6" height="36.67" rx="2.3" fill="#0000ff"/>
<rect x="271.32" y="1234.90" width="5.6" height="50.09" rx="2.3" fill="#ff0000"/>
<rect x="279.68" y="1162.80" width="5.6" height="74.30" rx="2.3" fill="#0000ff"/>
<rect x="286.20" y="1180.76" width="5.6" height="56.34" rx="2.3" fill="#0000ff"/>
<rect x="292.72" y="1107.21" width="5.6" height="129.89" rx="2.3" fill="#0000ff"/>
<rect x="297.41" y="1234.90" width="5.6" height="52.66" rx="2.3" fill="#ff0000"/>
<rect x="303.94" y="1234.90" width="5.6" height="12.46" rx="2.3" fill="#ff0000"/>
<rect x="312.30" y="1139.71" width="5.6" height="97.39" rx="2.3" fill="#0000ff"/>
<rect x="316.99" y="1234.90" width="5.6" height="17.59" rx="2.3" fill="#ff0000"/>
<rect x="325.34" y="1214.97" width="5.6" height="22.13" rx="2.3" fill="#0000ff"/>
<rect x="331.87" y="1199.58" width="5.6" height="37.52" rx="2.3" fill="#0000ff"/>
<rect x="338.39" y="1090.11" width="5.6" height="146.99" rx="2.3" fill="#0000ff"/>
<rect x="343.08" y="1234.90" width="5.6" height="88.58" rx="2.3" fill="#ff0000"/>
<rect x="349.61" y="1234.90" width="5.6" height="5.62" rx="2.3" fill="#ff0000"/>
<rect x="357.96" y="1019.12" width="5.6" height="217.98" rx="2.3" fill="#0000ff"/>
<rect x="364.49" y="1177.34" width="5.6" height="59.76" rx="2.3" fill="#0000ff"/>
<rect x="371.01" y="1199.58" width="5.6" height="37.52" rx="2.3" fill="#0000ff"/>
<rect x="377.54" y="1231.22" width="5.6" height="5.88" rx="2.3" fill="#0000ff"/>
<rect x="382.23" y="1234.90" width="5.6" height="29.57" rx="2.3" fill="#ff0000"/>
<rect x="390.58" y="1165.37" width="5.6" height="71.73" rx="2.3" fill="#0000ff"/>
<rect x="397.11" y="1161.09" width="5.6" height="76.01" rx="2.3" fill="#0000ff"/>
<rect x="403.63" y="1140.57" width="5.6" height="96.53" rx="2.3" fill="#0000ff"/>
<rect x="410.16" y="1168.79" width="5.6" height="68.31" rx="2.3" fill="#0000ff"/>
<rect x="416.68" y="1087.54" width="5.6" height="149.56" rx="2.3" fill="#0000ff"/>
<rect x="423.20" y="1199.58" width="5.6" height="37.52" rx="2.3" fill="#0000ff"/>
<rect x="427.89" y="1234.90" width="5.6" height="32.99" rx="2.3" fill="#ff0000"/>
<rect x="436.25" y="1120.90" width="5.6" height="116.20" rx="2.3" fill="#0000ff"/>
<rect x="442.78" y="1055.04" width="5.6" height="182.06" rx="2.3" fill="#0000ff"/>
<rect x="449.30" y="1220.11" width="5.6" height="16.99" rx="2.3" fill="#0000ff"/>
<rect x="455.82" y="1162.80" width="5.6" height="74.30" rx="2.3" fill="#0000ff"/>
<rect x="462.35" y="1178.20" width="5.6" height="58.90" rx="2.3" fill="#0000ff"/>
<rect x="468.87" y="1177.34" width="5.6" height="59.76" rx="2.3" fill="#0000ff"/>
<rect x="475.40" y="1183.33" width="5.6" height="53.77" rx="2.3" fill="#0000ff"/>
<rect x="481.92" y="1092.67" width="5.6" height="144.43" rx="2.3" fill="#0000ff"/>
<rect x="493.13" y="1234.90" width="5.6" height="9.04" rx="2.3" fill="#ff0000"/>
<rect x="499.66" y="1234.90" width="5.6" height="128.78" rx="2.3" fill="#ff0000"/>
<rect x="506.18" y="1234.90" width="5.6" height="25.29" rx="2.3" fill="#ff0000"/>
<rect x="514.54" y="1066.16" width="5.6" height="170.94" rx="2.3" fill="#0000ff"/>
<rect x="521.06" y="1194.45" width="5.6" height="42.65" rx="2.3" fill="#0000ff"/>
<rect x="525.75" y="1234.90" width="5.6" height="3.91" rx="2.3" fill="#ff0000"/>
<rect x="532.28" y="1234.90" width="5.6" height="5.62" rx="2.3" fill="#ff0000"/>
<rect x="540.64" y="1174.78" width="5.6" height="62.32" rx="2.3" fill="#0000ff"/>
<rect x="547.16" y="1226.09" width="5.6" height="11.01" rx="2.3" fill="#0000ff"/>
<rect x="551.85" y="1234.90" width="5.6" height="9.90" rx="2.3" fill="#ff0000"/>
<rect x="558.37" y="1234.90" width="5.6" height="60.36" rx="2.3" fill="#ff0000"/>
<rect x="564.90" y="1234.90" width="5.6" height="96.28" rx="2.3" fill="#ff0000"/>
<rect x="571.42" y="1234.90" width="5.6" height="38.12" rx="2.3" fill="#ff0000"/>
<rect x="579.78" y="1230.37" width="5.6" height="6.73" rx="2.3" fill="#0000ff"/>
<rect x="584.47" y="1234.90" width="5.6" height="66.34" rx="2.3" fill="#ff0000"/>
<rect x="592.83" y="1160.24" width="5.6" height="76.86" rx="2.3" fill="#0000ff"/>
<rect x="599.35" y="1206.42" width="5.6" height="30.68" rx="2.3" fill="#0000ff"/>
<rect x="605.88" y="1199.58" width="5.6" height="37.52" rx="2.3" fill="#0000ff"/>
<rect x="612.40" y="1173.92" width="5.6" height="63.18" rx="2.3" fill="#0000ff"/>
<rect x="618.92" y="1200.43" width="5.6" height="36.67" rx="2.3" fill="#0000ff"/>
<rect x="625.45" y="1156.82" width="5.6" height="80.28" rx="2.3" fill="#0000ff"/>
<rect x="631.97" y="1221.82" width="5.6" height="15.28" rx="2.3" fill="#0000ff"/>
<rect x="636.66" y="1234.90" width="5.6" height="31.28" rx="2.3" fill="#ff0000"/>
<rect x="645.02" y="1163.66" width="5.6" height="73.44" rx="2.3" fill="#0000ff"/>
<rect x="649.71" y="1234.90" width="5.6" height="52.66" rx="2.3" fill="#ff0000"/>
<rect x="658.07" y="1173.92" width="5.6" height="63.18" rx="2.3" fill="#0000ff"/>
<rect x="662.76" y="1234.90" width="5.6" height="39.83" rx="2.3" fill="#ff0000"/>
<rect x="671.12" y="1224.38" width="5.6" height="12.72" rx="2.3" fill="#0000ff"/>
<rect x="675.81" y="1234.90" width="5.6" height="118.51" rx="2.3" fill="#ff0000"/>
<rect x="684.16" y="1197.01" width="5.6" height="40.09" rx="2.3" fill="#0000ff"/>
<rect x="690.69" y="1222.67" width="5.6" height="14.43" rx="2.3" fill="#0000ff"/>
<rect x="697.21" y="1195.30" width="5.6" height="41.80" rx="2.3" fill="#0000ff"/>
<rect x="701.90" y="1234.90" width="5.6" height="33.84" rx="2.3" fill="#ff0000"/>
<rect x="708.43" y="1234.90" width="5.6" height="54.37" rx="2.3" fill="#ff0000"/>
<rect x="714.95" y="1234.90" width="5.6" height="56.94" rx="2.3" fill="#ff0000"/>
<rect x="723.31" y="1174.78" width="5.6" height="62.32" rx="2.3" fill="#0000ff"/>
<rect x="729.83" y="1172.21" width="5.6" height="64.89" rx="2.3" fill="#0000ff"/>
<rect x="736.36" y="1213.26" width="5.6" height="23.84" rx="2.3" fill="#0000ff"/>
<rect x="741.05" y="1234.90" width="5.6" height="50.09" rx="2.3" fill="#ff0000"/>
<rect x="749.40" y="1233.79" width="5.6" height="3.31" rx="2.3" fill="#0000ff"/>
<rect x="755.93" y="1223.53" width="5.6" height="13.57" rx="2.3" fill="#0000ff"/>
<rect x="760.62" y="1234.90" width="5.6" height="53.52" rx="2.3" fill="#ff0000"/>
<rect x="768.98" y="1214.12" width="5.6" height="22.98" rx="2.3" fill="#0000ff"/>
<rect x="773.67" y="1234.90" width="5.6" height="9.90" rx="2.3" fill="#ff0000"/>
<rect x="780.19" y="1234.90" width="5.6" height="33.84" rx="2.3" fill="#ff0000"/>
<rect x="786.71" y="1234.90" width="5.6" height="104.83" rx="2.3" fill="#ff0000"/>
<rect x="795.07" y="1173.92" width="5.6" height="63.18" rx="2.3" fill="#0000ff"/>
<rect x="799.76" y="1234.90" width="5.6" height="15.03" rx="2.3" fill="#ff0000"/>
<rect x="808.12" y="1172.21" width="5.6" height="64.89" rx="2.3" fill="#0000ff"/>
<rect x="814.64" y="1067.87" width="5.6" height="169.23" rx="2.3" fill="#0000ff"/>
<rect x="821.17" y="1202.15" width="5.6" height="34.95" rx="2.3" fill="#0000ff"/>
<rect x="827.69" y="1187.61" width="5.6" height="49.49" rx="2.3" fill="#0000ff"/>
<rect x="832.38" y="1234.90" width="5.6" height="20.16" rx="2.3" fill="#ff0000"/>
<rect x="840.74" y="1153.40" width="5.6" height="83.70" rx="2.3" fill="#0000ff"/>
<rect x="847.26" y="1227.80" width="5.6" height="9.30" rx="2.3" fill="#0000ff"/>
<rect x="853.79" y="1228.66" width="5.6" height="8.44" rx="2.3" fill="#0000ff"/>
<rect x="860.31" y="1208.13" width="5.6" height="28.97" rx="2.3" fill="#0000ff"/>
<rect x="866.84" y="1214.97" width="5.6" height="22.13" rx="2.3" fill="#0000ff"/>
<rect x="873.36" y="1110.63" width="5.6" height="126.47" rx="2.3" fill="#0000ff"/>
<rect x="879.88" y="1158.53" width="5.6" height="78.57" rx="2.3" fill="#0000ff"/>
<rect x="886.41" y="1166.22" width="5.6" height="70.88" rx="2.3" fill="#0000ff"/>
<rect x="892.93" y="1142.28" width="5.6" height="94.82" rx="2.3" fill="#0000ff"/>
<rect x="897.62" y="1234.90" width="5.6" height="40.69" rx="2.3" fill="#ff0000"/>
<rect x="904.15" y="1234.90" width="5.6" height="7.33" rx="2.3" fill="#ff0000"/>
<rect x="912.50" y="1225.24" width="5.6" height="11.86" rx="2.3" fill="#0000ff"/>
<rect x="919.03" y="1231.22" width="5.6" height="5.88" rx="2.3" fill="#0000ff"/>
<rect x="925.55" y="1174.78" width="5.6" height="62.32" rx="2.3" fill="#0000ff"/>
<rect x="932.08" y="1140.57" width="5.6" height="96.53" rx="2.3" fill="#0000ff"/>
<rect x="936.77" y="1234.90" width="5.6" height="44.11" rx="2.3" fill="#ff0000"/>
<rect x="945.12" y="1185.90" width="5.6" height="51.20" rx="2.3" fill="#0000ff"/>
<rect x="951.65" y="1191.88" width="5.6" height="45.22" rx="2.3" fill="#0000ff"/>
<rect x="958.17" y="1210.70" width="5.6" height="26.40" rx="2.3" fill="#0000ff"/>
<rect x="964.70" y="1219.25" width="5.6" height="17.85" rx="2.3" fill="#0000ff"/>
<rect x="969.39" y="1234.90" width="5.6" height="14.17" rx="2.3" fill="#ff0000"/>
<rect x="977.74" y="1144.84" width="5.6" height="92.26" rx="2.3" fill="#0000ff"/>
<rect x="984.27" y="1128.59" width="5.6" height="108.51" rx="2.3" fill="#0000ff"/>
<rect x="988.96" y="1234.90" width="5.6" height="62.07" rx="2.3" fill="#ff0000"/>
<rect x="995.48" y="1234.90" width="5.6" height="74.04" rx="2.3" fill="#ff0000"/>
<rect x="1003.84" y="1233.79" width="5.6" height="3.31" rx="2.3" fill="#0000ff"/>
<rect x="1010.36" y="1210.70" width="5.6" height="26.40" rx="2.3" fill="#0000ff"/>
<rect x="1016.89" y="1221.82" width="5.6" height="15.28" rx="2.3" fill="#0000ff"/>
<rect x="1021.58" y="1234.90" width="5.6" height="59.50" rx="2.3" fill="#ff0000"/>
<rect x="1028.10" y="1234.90" width="5.6" height="8.19" rx="2.3" fill="#ff0000"/>
<rect x="1034.63" y="1234.90" width="5.6" height="103.12" rx="2.3" fill="#ff0000"/>
<rect x="1041.15" y="1234.90" width="5.6" height="102.26" rx="2.3" fill="#ff0000"/>
<rect x="1049.51" y="1083.27" width="5.6" height="153.83" rx="2.3" fill="#0000ff"/>
<rect x="1054.20" y="1234.90" width="5.6" height="68.05" rx="2.3" fill="#ff0000"/>
<rect x="1060.72" y="1234.90" width="5.6" height="40.69" rx="2.3" fill="#ff0000"/>
<rect x="1067.25" y="1234.90" width="5.6" height="52.66" rx="2.3" fill="#ff0000"/>
<rect x="1075.60" y="1217.54" width="5.6" height="19.56" rx="2.3" fill="#0000ff"/>
<rect x="1082.13" y="1211.55" width="5.6" height="25.55" rx="2.3" fill="#0000ff"/>
<rect x="1086.82" y="1234.90" width="5.6" height="39.83" rx="2.3" fill="#ff0000"/>
<rect x="1093.34" y="1234.90" width="5.6" height="29.57" rx="2.3" fill="#ff0000"/>
<rect x="1101.70" y="1080.70" width="5.6" height="156.40" rx="2.3" fill="#0000ff"/>
<rect x="1106.39" y="1234.90" width="5.6" height="29.57" rx="2.3" fill="#ff0000"/>
<rect x="1112.91" y="1234.90" width="5.6" height="23.58" rx="2.3" fill="#ff0000"/>
<rect x="1119.44" y="1234.90" width="5.6" height="89.44" rx="2.3" fill="#ff0000"/>
<rect x="1127.80" y="1130.30" width="5.6" height="106.80" rx="2.3" fill="#0000ff"/>
<rect x="1134.32" y="1092.67" width="5.6" height="144.43" rx="2.3" fill="#0000ff"/>
<rect x="1140.84" y="1197.87" width="5.6" height="39.23" rx="2.3" fill="#0000ff"/>
<rect x="1145.53" y="1234.90" width="5.6" height="87.73" rx="2.3" fill="#ff0000"/>
<rect x="1152.06" y="1234.90" width="5.6" height="61.21" rx="2.3" fill="#ff0000"/>
<rect x="1160.42" y="1210.70" width="5.6" height="26.40" rx="2.3" fill="#0000ff"/>
<rect x="1166.94" y="1138.00" width="5.6" height="99.10" rx="2.3" fill="#0000ff"/>
<rect x="1171.63" y="1234.90" width="5.6" height="127.92" rx="2.3" fill="#ff0000"/>
<rect x="1178.15" y="1234.90" width="5.6" height="50.09" rx="2.3" fill="#ff0000"/>
<rect x="1186.51" y="1098.66" width="5.6" height="138.44" rx="2.3" fill="#0000ff"/>
<rect x="1193.04" y="1197.87" width="5.6" height="39.23" rx="2.3" fill="#0000ff"/>
<line x1="168.3" y1="1065.0" x2="1198.6" y2="1065.0" stroke="#000" stroke-width="2.2"/>
<line x1="168.3" y1="1406.7" x2="1198.6" y2="1406.7" stroke="#000" stroke-width="2.2"/>
<line x1="168.3" y1="1237.1" x2="1198.6" y2="1237.1" stroke="#000" stroke-width="2.4"/>
<line x1="330.5" y1="1237.1" x2="330.5" y2="1251.1" stroke="#000" stroke-width="2.4"/>
<line x1="493.8" y1="1237.1" x2="493.8" y2="1251.1" stroke="#000" stroke-width="2.4"/>
<line x1="655.9" y1="1237.1" x2="655.9" y2="1251.1" stroke="#000" stroke-width="2.4"/>
<line x1="819.2" y1="1237.1" x2="819.2" y2="1251.1" stroke="#000" stroke-width="2.4"/>
<line x1="982.7" y1="1237.1" x2="982.7" y2="1251.1" stroke="#000" stroke-width="2.4"/>
<line x1="1146.4" y1="1237.1" x2="1146.4" y2="1251.1" stroke="#000" stroke-width="2.4"/>
<line x1="154.3" y1="1579.2" x2="168.3" y2="1579.2" stroke="#000" stroke-width="2.4"/>
<text x="123.0" y="1592.0" font-size="43.8" text-anchor="end" fill="#000" textLength="46.0" lengthAdjust="spacingAndGlyphs">−4</text>
<line x1="154.3" y1="1493.7" x2="168.3" y2="1493.7" stroke="#000" stroke-width="2.4"/>
<text x="123.0" y="1506.5" font-size="43.8" text-anchor="end" fill="#000" textLength="46.0" lengthAdjust="spacingAndGlyphs">−3</text>
<line x1="154.3" y1="1408.1" x2="168.3" y2="1408.1" stroke="#000" stroke-width="2.4"/>
<text x="123.0" y="1420.9" font-size="43.8" text-anchor="end" fill="#000" textLength="46.0" lengthAdjust="spacingAndGlyphs">−2</text>
<line x1="154.3" y1="1322.6" x2="168.3" y2="1322.6" stroke="#000" stroke-width="2.4"/>
<text x="123.0" y="1335.4" font-size="43.8" text-anchor="end" fill="#000" textLength="46.0" lengthAdjust="spacingAndGlyphs">−1</text>
<line x1="154.3" y1="1237.1" x2="168.3" y2="1237.1" stroke="#000" stroke-width="2.4"/>
<text x="123.0" y="1249.9" font-size="43.8" text-anchor="end" fill="#000" textLength="22.5" lengthAdjust="spacingAndGlyphs">0</text>
<line x1="154.3" y1="1151.6" x2="168.3" y2="1151.6" stroke="#000" stroke-width="2.4"/>
<text x="123.0" y="1164.4" font-size="43.8" text-anchor="end" fill="#000" textLength="22.5" lengthAdjust="spacingAndGlyphs">1</text>
<line x1="154.3" y1="1066.0" x2="168.3" y2="1066.0" stroke="#000" stroke-width="2.4"/>
<text x="123.0" y="1078.8" font-size="43.8" text-anchor="end" fill="#000" textLength="22.5" lengthAdjust="spacingAndGlyphs">2</text>
<line x1="154.3" y1="980.5" x2="168.3" y2="980.5" stroke="#000" stroke-width="2.4"/>
<text x="123.0" y="993.3" font-size="43.8" text-anchor="end" fill="#000" textLength="22.5" lengthAdjust="spacingAndGlyphs">3</text>
<line x1="154.3" y1="895.0" x2="168.3" y2="895.0" stroke="#000" stroke-width="2.4"/>
<text x="123.0" y="907.8" font-size="43.8" text-anchor="end" fill="#000" textLength="22.5" lengthAdjust="spacingAndGlyphs">4</text>
<line x1="168.3" y1="1579.2" x2="168.3" y2="1600.2" stroke="#000" stroke-width="2.4"/>
<line x1="330.4" y1="1579.2" x2="330.4" y2="1600.2" stroke="#000" stroke-width="2.4"/>
<line x1="495.2" y1="1579.2" x2="495.2" y2="1600.2" stroke="#000" stroke-width="2.4"/>
<line x1="657.0" y1="1579.2" x2="657.0" y2="1600.2" stroke="#000" stroke-width="2.4"/>
<line x1="822.4" y1="1579.2" x2="822.4" y2="1600.2" stroke="#000" stroke-width="2.4"/>
<line x1="982.4" y1="1579.2" x2="982.4" y2="1600.2" stroke="#000" stroke-width="2.4"/>
<line x1="1149.6" y1="1579.2" x2="1149.6" y2="1600.2" stroke="#000" stroke-width="2.4"/>
<text x="171.0" y="1653.6" font-size="43.8" text-anchor="middle" fill="#000" textLength="94.0" lengthAdjust="spacingAndGlyphs">1867</text>
<text x="334.4" y="1653.6" font-size="43.8" text-anchor="middle" fill="#000" textLength="94.0" lengthAdjust="spacingAndGlyphs">1892</text>
<text x="497.0" y="1653.6" font-size="43.8" text-anchor="middle" fill="#000" textLength="94.0" lengthAdjust="spacingAndGlyphs">1917</text>
<text x="659.4" y="1653.6" font-size="43.8" text-anchor="middle" fill="#000" textLength="94.0" lengthAdjust="spacingAndGlyphs">1942</text>
<text x="823.6" y="1653.6" font-size="43.8" text-anchor="middle" fill="#000" textLength="94.0" lengthAdjust="spacingAndGlyphs">1967</text>
<text x="986.0" y="1653.6" font-size="43.8" text-anchor="middle" fill="#000" textLength="94.0" lengthAdjust="spacingAndGlyphs">1992</text>
<text x="1149.6" y="1653.6" font-size="43.8" text-anchor="middle" fill="#000" textLength="94.0" lengthAdjust="spacingAndGlyphs">2017</text>
<rect x="1336.3" y="884.2" width="1030.7" height="684.8" fill="none" stroke="#000" stroke-width="3.6"/>
<rect x="1336.21" y="1224.40" width="5.6" height="95.75" rx="2.3" fill="#ff0000"/>
<rect x="1344.55" y="1133.05" width="5.6" height="93.55" rx="2.3" fill="#0000ff"/>
<rect x="1349.26" y="1224.40" width="5.6" height="60.65" rx="2.3" fill="#ff0000"/>
<rect x="1355.78" y="1224.40" width="5.6" height="11.86" rx="2.3" fill="#ff0000"/>
<rect x="1362.30" y="1224.40" width="5.6" height="110.30" rx="2.3" fill="#ff0000"/>
<rect x="1370.64" y="1031.19" width="5.6" height="195.41" rx="2.3" fill="#0000ff"/>
<rect x="1377.16" y="1124.49" width="5.6" height="102.11" rx="2.3" fill="#0000ff"/>
<rect x="1381.87" y="1224.40" width="5.6" height="40.11" rx="2.3" fill="#ff0000"/>
<rect x="1388.39" y="1224.40" width="5.6" height="35.83" rx="2.3" fill="#ff0000"/>
<rect x="1394.91" y="1224.40" width="5.6" height="149.68" rx="2.3" fill="#ff0000"/>
<rect x="1401.43" y="1224.40" width="5.6" height="162.52" rx="2.3" fill="#ff0000"/>
<rect x="1409.77" y="1126.20" width="5.6" height="100.40" rx="2.3" fill="#0000ff"/>
<rect x="1414.48" y="1224.40" width="5.6" height="161.66" rx="2.3" fill="#ff0000"/>
<rect x="1421.00" y="1224.40" width="5.6" height="106.88" rx="2.3" fill="#ff0000"/>
<rect x="1429.34" y="1158.73" width="5.6" height="67.87" rx="2.3" fill="#0000ff"/>
<rect x="1435.86" y="1085.97" width="5.6" height="140.63" rx="2.3" fill="#0000ff"/>
<rect x="1440.57" y="1224.40" width="5.6" height="100.88" rx="2.3" fill="#ff0000"/>
<rect x="1447.09" y="1224.40" width="5.6" height="172.79" rx="2.3" fill="#ff0000"/>
<rect x="1455.43" y="1152.74" width="5.6" height="73.86" rx="2.3" fill="#0000ff"/>
<rect x="1460.13" y="1224.40" width="5.6" height="22.13" rx="2.3" fill="#ff0000"/>
<rect x="1468.47" y="1168.15" width="5.6" height="58.45" rx="2.3" fill="#0000ff"/>
<rect x="1474.99" y="1220.36" width="5.6" height="6.24" rx="2.3" fill="#0000ff"/>
<rect x="1481.51" y="1153.60" width="5.6" height="73.00" rx="2.3" fill="#0000ff"/>
<rect x="1486.22" y="1224.40" width="5.6" height="84.62" rx="2.3" fill="#ff0000"/>
<rect x="1492.74" y="1224.40" width="5.6" height="55.52" rx="2.3" fill="#ff0000"/>
<rect x="1499.26" y="1224.40" width="5.6" height="76.92" rx="2.3" fill="#ff0000"/>
<rect x="1507.60" y="1062.86" width="5.6" height="163.74" rx="2.3" fill="#0000ff"/>
<rect x="1512.31" y="1224.40" width="5.6" height="94.04" rx="2.3" fill="#ff0000"/>
<rect x="1520.65" y="1212.66" width="5.6" height="13.94" rx="2.3" fill="#0000ff"/>
<rect x="1527.17" y="1117.64" width="5.6" height="108.96" rx="2.3" fill="#0000ff"/>
<rect x="1531.87" y="1224.40" width="5.6" height="93.18" rx="2.3" fill="#ff0000"/>
<rect x="1540.21" y="1110.80" width="5.6" height="115.80" rx="2.3" fill="#0000ff"/>
<rect x="1546.73" y="1209.24" width="5.6" height="17.36" rx="2.3" fill="#0000ff"/>
<rect x="1553.26" y="1133.91" width="5.6" height="92.69" rx="2.3" fill="#0000ff"/>
<rect x="1557.96" y="1224.40" width="5.6" height="28.12" rx="2.3" fill="#ff0000"/>
<rect x="1564.48" y="1224.40" width="5.6" height="51.24" rx="2.3" fill="#ff0000"/>
<rect x="1571.01" y="1224.40" width="5.6" height="40.11" rx="2.3" fill="#ff0000"/>
<rect x="1577.53" y="1224.40" width="5.6" height="141.12" rx="2.3" fill="#ff0000"/>
<rect x="1585.87" y="1061.15" width="5.6" height="165.45" rx="2.3" fill="#0000ff"/>
<rect x="1592.39" y="1163.01" width="5.6" height="63.59" rx="2.3" fill="#0000ff"/>
<rect x="1598.91" y="1084.26" width="5.6" height="142.34" rx="2.3" fill="#0000ff"/>
<rect x="1603.62" y="1224.40" width="5.6" height="178.78" rx="2.3" fill="#ff0000"/>
<rect x="1611.95" y="1211.80" width="5.6" height="14.80" rx="2.3" fill="#0000ff"/>
<rect x="1618.48" y="1158.73" width="5.6" height="67.87" rx="2.3" fill="#0000ff"/>
<rect x="1623.18" y="1224.40" width="5.6" height="94.04" rx="2.3" fill="#ff0000"/>
<rect x="1629.70" y="1224.40" width="5.6" height="56.37" rx="2.3" fill="#ff0000"/>
<rect x="1638.04" y="1169.86" width="5.6" height="56.74" rx="2.3" fill="#0000ff"/>
<rect x="1642.75" y="1224.40" width="5.6" height="24.70" rx="2.3" fill="#ff0000"/>
<rect x="1651.09" y="1214.37" width="5.6" height="12.23" rx="2.3" fill="#0000ff"/>
<rect x="1662.31" y="1224.40" width="5.6" height="11.86" rx="2.3" fill="#ff0000"/>
<rect x="1668.84" y="1224.40" width="5.6" height="62.36" rx="2.3" fill="#ff0000"/>
<rect x="1677.17" y="1199.82" width="5.6" height="26.78" rx="2.3" fill="#0000ff"/>
<rect x="1681.88" y="1224.40" width="5.6" height="58.08" rx="2.3" fill="#ff0000"/>
<rect x="1688.40" y="1224.40" width="5.6" height="189.91" rx="2.3" fill="#ff0000"/>
<rect x="1696.74" y="1217.80" width="5.6" height="8.80" rx="2.3" fill="#0000ff"/>
<rect x="1701.45" y="1224.40" width="5.6" height="90.61" rx="2.3" fill="#ff0000"/>
<rect x="1707.97" y="1224.40" width="5.6" height="42.68" rx="2.3" fill="#ff0000"/>
<rect x="1714.49" y="1224.40" width="5.6" height="64.93" rx="2.3" fill="#ff0000"/>
<rect x="1722.83" y="1109.94" width="5.6" height="116.66" rx="2.3" fill="#0000ff"/>
<rect x="1727.53" y="1224.40" width="5.6" height="102.60" rx="2.3" fill="#ff0000"/>
<rect x="1735.87" y="1140.76" width="5.6" height="85.84" rx="2.3" fill="#0000ff"/>
<rect x="1740.58" y="1224.40" width="5.6" height="35.83" rx="2.3" fill="#ff0000"/>
<rect x="1747.10" y="1224.40" width="5.6" height="112.87" rx="2.3" fill="#ff0000"/>
<rect x="1753.62" y="1224.40" width="5.6" height="41.82" rx="2.3" fill="#ff0000"/>
<rect x="1761.96" y="1203.24" width="5.6" height="23.36" rx="2.3" fill="#0000ff"/>
<rect x="1768.48" y="1169.86" width="5.6" height="56.74" rx="2.3" fill="#0000ff"/>
<rect x="1773.19" y="1224.40" width="5.6" height="13.57" rx="2.3" fill="#ff0000"/>
<rect x="1781.53" y="1101.38" width="5.6" height="125.22" rx="2.3" fill="#0000ff"/>
<rect x="1786.23" y="1224.40" width="5.6" height="88.04" rx="2.3" fill="#ff0000"/>
<rect x="1794.57" y="1127.92" width="5.6" height="98.68" rx="2.3" fill="#0000ff"/>
<rect x="1801.09" y="1137.33" width="5.6" height="89.27" rx="2.3" fill="#0000ff"/>
<rect x="1807.61" y="1191.26" width="5.6" height="35.34" rx="2.3" fill="#0000ff"/>
<rect x="1814.14" y="1165.58" width="5.6" height="61.02" rx="2.3" fill="#0000ff"/>
<rect x="1818.84" y="1224.40" width="5.6" height="95.75" rx="2.3" fill="#ff0000"/>
<rect x="1825.36" y="1224.40" width="5.6" height="135.12" rx="2.3" fill="#ff0000"/>
<rect x="1831.89" y="1224.40" width="5.6" height="60.65" rx="2.3" fill="#ff0000"/>
<rect x="1838.41" y="1224.40" width="5.6" height="10.15" rx="2.3" fill="#ff0000"/>
<rect x="1844.93" y="1224.40" width="5.6" height="281.50" rx="2.3" fill="#ff0000"/>
<rect x="1853.27" y="1139.04" width="5.6" height="87.56" rx="2.3" fill="#0000ff"/>
<rect x="1857.97" y="1224.40" width="5.6" height="16.14" rx="2.3" fill="#ff0000"/>
<rect x="1864.50" y="1224.40" width="5.6" height="138.55" rx="2.3" fill="#ff0000"/>
<rect x="1872.83" y="1085.12" width="5.6" height="141.48" rx="2.3" fill="#0000ff"/>
<rect x="1877.54" y="1224.40" width="5.6" height="28.98" rx="2.3" fill="#ff0000"/>
<rect x="1885.88" y="1205.81" width="5.6" height="20.79" rx="2.3" fill="#0000ff"/>
<rect x="1892.40" y="1220.36" width="5.6" height="6.24" rx="2.3" fill="#0000ff"/>
<rect x="1898.92" y="1221.22" width="5.6" height="5.38" rx="2.3" fill="#0000ff"/>
<rect x="1903.63" y="1224.40" width="5.6" height="140.26" rx="2.3" fill="#ff0000"/>
<rect x="1910.15" y="1224.40" width="5.6" height="112.87" rx="2.3" fill="#ff0000"/>
<rect x="1916.67" y="1224.40" width="5.6" height="168.51" rx="2.3" fill="#ff0000"/>
<rect x="1923.19" y="1224.40" width="5.6" height="166.80" rx="2.3" fill="#ff0000"/>
<rect x="1929.72" y="1224.40" width="5.6" height="184.77" rx="2.3" fill="#ff0000"/>
<rect x="1936.24" y="1224.40" width="5.6" height="74.35" rx="2.3" fill="#ff0000"/>
<rect x="1944.58" y="1094.53" width="5.6" height="132.07" rx="2.3" fill="#0000ff"/>
<rect x="1951.10" y="1205.81" width="5.6" height="20.79" rx="2.3" fill="#0000ff"/>
<rect x="1955.80" y="1224.40" width="5.6" height="47.81" rx="2.3" fill="#ff0000"/>
<rect x="1964.14" y="1196.40" width="5.6" height="30.20" rx="2.3" fill="#0000ff"/>
<rect x="1970.66" y="1182.70" width="5.6" height="43.90" rx="2.3" fill="#0000ff"/>
<rect x="1977.19" y="1142.47" width="5.6" height="84.13" rx="2.3" fill="#0000ff"/>
<rect x="1983.71" y="1084.26" width="5.6" height="142.34" rx="2.3" fill="#0000ff"/>
<rect x="1990.23" y="1158.73" width="5.6" height="67.87" rx="2.3" fill="#0000ff"/>
<rect x="1994.94" y="1224.40" width="5.6" height="84.62" rx="2.3" fill="#ff0000"/>
<rect x="2001.46" y="1224.40" width="5.6" height="7.58" rx="2.3" fill="#ff0000"/>
<rect x="2007.98" y="1224.40" width="5.6" height="258.39" rx="2.3" fill="#ff0000"/>
<rect x="2014.50" y="1224.40" width="5.6" height="85.48" rx="2.3" fill="#ff0000"/>
<rect x="2021.02" y="1224.40" width="5.6" height="112.01" rx="2.3" fill="#ff0000"/>
<rect x="2029.36" y="1177.56" width="5.6" height="49.04" rx="2.3" fill="#0000ff"/>
<rect x="2034.07" y="1224.40" width="5.6" height="114.58" rx="2.3" fill="#ff0000"/>
<rect x="2040.59" y="1224.40" width="5.6" height="25.56" rx="2.3" fill="#ff0000"/>
<rect x="2048.93" y="1119.36" width="5.6" height="107.24" rx="2.3" fill="#0000ff"/>
<rect x="2053.63" y="1224.40" width="5.6" height="121.43" rx="2.3" fill="#ff0000"/>
<rect x="2060.16" y="1224.40" width="5.6" height="148.82" rx="2.3" fill="#ff0000"/>
<rect x="2066.68" y="1224.40" width="5.6" height="73.49" rx="2.3" fill="#ff0000"/>
<rect x="2075.02" y="1223.79" width="5.6" height="2.81" rx="2.3" fill="#0000ff"/>
<rect x="2079.72" y="1224.40" width="5.6" height="26.41" rx="2.3" fill="#ff0000"/>
<rect x="2086.24" y="1224.40" width="5.6" height="4.16" rx="2.3" fill="#ff0000"/>
<rect x="2092.77" y="1224.40" width="5.6" height="286.64" rx="2.3" fill="#ff0000"/>
<rect x="2101.10" y="1165.58" width="5.6" height="61.02" rx="2.3" fill="#0000ff"/>
<rect x="2105.81" y="1224.40" width="5.6" height="145.40" rx="2.3" fill="#ff0000"/>
<rect x="2112.33" y="1224.40" width="5.6" height="74.35" rx="2.3" fill="#ff0000"/>
<rect x="2120.67" y="1187.84" width="5.6" height="38.76" rx="2.3" fill="#0000ff"/>
<rect x="2125.38" y="1224.40" width="5.6" height="189.05" rx="2.3" fill="#ff0000"/>
<rect x="2131.90" y="1224.40" width="5.6" height="178.78" rx="2.3" fill="#ff0000"/>
<rect x="2140.24" y="1180.99" width="5.6" height="45.61" rx="2.3" fill="#0000ff"/>
<rect x="2146.76" y="1053.44" width="5.6" height="173.16" rx="2.3" fill="#0000ff"/>
<rect x="2153.28" y="1138.19" width="5.6" height="88.41" rx="2.3" fill="#0000ff"/>
<rect x="2159.80" y="1115.93" width="5.6" height="110.67" rx="2.3" fill="#0000ff"/>
<rect x="2166.32" y="1153.60" width="5.6" height="73.00" rx="2.3" fill="#0000ff"/>
<rect x="2171.03" y="1224.40" width="5.6" height="82.05" rx="2.3" fill="#ff0000"/>
<rect x="2179.37" y="1157.88" width="5.6" height="68.72" rx="2.3" fill="#0000ff"/>
<rect x="2184.07" y="1224.40" width="5.6" height="85.48" rx="2.3" fill="#ff0000"/>
<rect x="2190.60" y="1224.40" width="5.6" height="64.08" rx="2.3" fill="#ff0000"/>
<rect x="2198.93" y="1176.71" width="5.6" height="49.89" rx="2.3" fill="#0000ff"/>
<rect x="2205.46" y="1080.84" width="5.6" height="145.76" rx="2.3" fill="#0000ff"/>
<rect x="2210.16" y="1224.40" width="5.6" height="7.58" rx="2.3" fill="#ff0000"/>
<rect x="2218.50" y="1176.71" width="5.6" height="49.89" rx="2.3" fill="#0000ff"/>
<rect x="2225.02" y="1203.24" width="5.6" height="23.36" rx="2.3" fill="#0000ff"/>
<rect x="2229.73" y="1224.40" width="5.6" height="42.68" rx="2.3" fill="#ff0000"/>
<rect x="2236.25" y="1224.40" width="5.6" height="16.14" rx="2.3" fill="#ff0000"/>
<rect x="2242.77" y="1224.40" width="5.6" height="67.50" rx="2.3" fill="#ff0000"/>
<rect x="2249.29" y="1224.40" width="5.6" height="159.09" rx="2.3" fill="#ff0000"/>
<rect x="2257.63" y="1222.08" width="5.6" height="4.52" rx="2.3" fill="#0000ff"/>
<rect x="2262.34" y="1224.40" width="5.6" height="38.40" rx="2.3" fill="#ff0000"/>
<rect x="2270.68" y="1166.44" width="5.6" height="60.16" rx="2.3" fill="#0000ff"/>
<rect x="2275.38" y="1224.40" width="5.6" height="263.52" rx="2.3" fill="#ff0000"/>
<rect x="2283.72" y="1177.56" width="5.6" height="49.04" rx="2.3" fill="#0000ff"/>
<rect x="2288.43" y="1224.40" width="5.6" height="62.36" rx="2.3" fill="#ff0000"/>
<rect x="2296.76" y="1192.97" width="5.6" height="33.63" rx="2.3" fill="#0000ff"/>
<rect x="2301.47" y="1224.40" width="5.6" height="62.36" rx="2.3" fill="#ff0000"/>
<rect x="2309.81" y="1203.24" width="5.6" height="23.36" rx="2.3" fill="#0000ff"/>
<rect x="2316.33" y="1223.79" width="5.6" height="2.81" rx="2.3" fill="#0000ff"/>
<rect x="2321.04" y="1224.40" width="5.6" height="126.56" rx="2.3" fill="#ff0000"/>
<rect x="2329.37" y="1150.17" width="5.6" height="76.43" rx="2.3" fill="#0000ff"/>
<rect x="2335.90" y="1214.37" width="5.6" height="12.23" rx="2.3" fill="#0000ff"/>
<rect x="2340.60" y="1224.40" width="5.6" height="105.16" rx="2.3" fill="#ff0000"/>
<rect x="2347.12" y="1224.40" width="5.6" height="122.28" rx="2.3" fill="#ff0000"/>
<rect x="2353.65" y="1224.40" width="5.6" height="22.99" rx="2.3" fill="#ff0000"/>
<rect x="2361.98" y="1197.25" width="5.6" height="29.35" rx="2.3" fill="#0000ff"/>
<line x1="1336.3" y1="1054.4" x2="2367.0" y2="1054.4" stroke="#000" stroke-width="2.2"/>
<line x1="1336.3" y1="1396.4" x2="2367.0" y2="1396.4" stroke="#000" stroke-width="2.2"/>
<line x1="1336.3" y1="1226.6" x2="2367.0" y2="1226.6" stroke="#000" stroke-width="2.4"/>
<line x1="1499.9" y1="1226.6" x2="1499.9" y2="1240.6" stroke="#000" stroke-width="2.4"/>
<line x1="1662.1" y1="1226.6" x2="1662.1" y2="1240.6" stroke="#000" stroke-width="2.4"/>
<line x1="1825.5" y1="1226.6" x2="1825.5" y2="1240.6" stroke="#000" stroke-width="2.4"/>
<line x1="1989.3" y1="1226.6" x2="1989.3" y2="1240.6" stroke="#000" stroke-width="2.4"/>
<line x1="2152.4" y1="1226.6" x2="2152.4" y2="1240.6" stroke="#000" stroke-width="2.4"/>
<line x1="2314.5" y1="1226.6" x2="2314.5" y2="1240.6" stroke="#000" stroke-width="2.4"/>
<line x1="1322.3" y1="1569.0" x2="1336.3" y2="1569.0" stroke="#000" stroke-width="2.4"/>
<text x="1293.0" y="1582.4" font-size="43.8" text-anchor="end" fill="#000" textLength="46.0" lengthAdjust="spacingAndGlyphs">−4</text>
<line x1="1322.3" y1="1483.4" x2="1336.3" y2="1483.4" stroke="#000" stroke-width="2.4"/>
<text x="1293.0" y="1496.8" font-size="43.8" text-anchor="end" fill="#000" textLength="46.0" lengthAdjust="spacingAndGlyphs">−3</text>
<line x1="1322.3" y1="1397.8" x2="1336.3" y2="1397.8" stroke="#000" stroke-width="2.4"/>
<text x="1293.0" y="1411.2" font-size="43.8" text-anchor="end" fill="#000" textLength="46.0" lengthAdjust="spacingAndGlyphs">−2</text>
<line x1="1322.3" y1="1312.2" x2="1336.3" y2="1312.2" stroke="#000" stroke-width="2.4"/>
<text x="1293.0" y="1325.6" font-size="43.8" text-anchor="end" fill="#000" textLength="46.0" lengthAdjust="spacingAndGlyphs">−1</text>
<line x1="1322.3" y1="1226.6" x2="1336.3" y2="1226.6" stroke="#000" stroke-width="2.4"/>
<text x="1293.0" y="1240.0" font-size="43.8" text-anchor="end" fill="#000" textLength="22.5" lengthAdjust="spacingAndGlyphs">0</text>
<line x1="1322.3" y1="1141.0" x2="1336.3" y2="1141.0" stroke="#000" stroke-width="2.4"/>
<text x="1293.0" y="1154.4" font-size="43.8" text-anchor="end" fill="#000" textLength="22.5" lengthAdjust="spacingAndGlyphs">1</text>
<line x1="1322.3" y1="1055.4" x2="1336.3" y2="1055.4" stroke="#000" stroke-width="2.4"/>
<text x="1293.0" y="1068.8" font-size="43.8" text-anchor="end" fill="#000" textLength="22.5" lengthAdjust="spacingAndGlyphs">2</text>
<line x1="1322.3" y1="969.8" x2="1336.3" y2="969.8" stroke="#000" stroke-width="2.4"/>
<text x="1293.0" y="983.2" font-size="43.8" text-anchor="end" fill="#000" textLength="22.5" lengthAdjust="spacingAndGlyphs">3</text>
<line x1="1322.3" y1="884.2" x2="1336.3" y2="884.2" stroke="#000" stroke-width="2.4"/>
<text x="1293.0" y="897.6" font-size="43.8" text-anchor="end" fill="#000" textLength="22.5" lengthAdjust="spacingAndGlyphs">4</text>
<line x1="1336.3" y1="1569.0" x2="1336.3" y2="1590.0" stroke="#000" stroke-width="2.4"/>
<line x1="1500.3" y1="1569.0" x2="1500.3" y2="1590.0" stroke="#000" stroke-width="2.4"/>
<line x1="1663.9" y1="1569.0" x2="1663.9" y2="1590.0" stroke="#000" stroke-width="2.4"/>
<line x1="1826.3" y1="1569.0" x2="1826.3" y2="1590.0" stroke="#000" stroke-width="2.4"/>
<line x1="1990.4" y1="1569.0" x2="1990.4" y2="1590.0" stroke="#000" stroke-width="2.4"/>
<line x1="2152.8" y1="1569.0" x2="2152.8" y2="1590.0" stroke="#000" stroke-width="2.4"/>
<line x1="2318.8" y1="1569.0" x2="2318.8" y2="1590.0" stroke="#000" stroke-width="2.4"/>
<text x="1340.3" y="1643.6" font-size="43.8" text-anchor="middle" fill="#000" textLength="94.0" lengthAdjust="spacingAndGlyphs">1867</text>
<text x="1503.3" y="1643.6" font-size="43.8" text-anchor="middle" fill="#000" textLength="94.0" lengthAdjust="spacingAndGlyphs">1892</text>
<text x="1665.7" y="1643.6" font-size="43.8" text-anchor="middle" fill="#000" textLength="94.0" lengthAdjust="spacingAndGlyphs">1917</text>
<text x="1829.3" y="1643.6" font-size="43.8" text-anchor="middle" fill="#000" textLength="94.0" lengthAdjust="spacingAndGlyphs">1942</text>
<text x="1992.0" y="1643.6" font-size="43.8" text-anchor="middle" fill="#000" textLength="94.0" lengthAdjust="spacingAndGlyphs">1967</text>
<text x="2154.6" y="1643.6" font-size="43.8" text-anchor="middle" fill="#000" textLength="94.0" lengthAdjust="spacingAndGlyphs">1992</text>
<text x="2317.6" y="1643.6" font-size="43.8" text-anchor="middle" fill="#000" textLength="94.0" lengthAdjust="spacingAndGlyphs">2017</text>
<rect x="154.6" y="1738.9" width="2234.4" height="684.4" fill="none" stroke="#000" stroke-width="3.6"/>
<rect x="159.46" y="2068.42" width="8.0" height="12.68" rx="3" fill="#0000ff"/>
<rect x="173.60" y="2009.39" width="8.0" height="71.71" rx="3" fill="#0000ff"/>
<rect x="183.70" y="2078.90" width="8.0" height="15.33" rx="3" fill="#ff0000"/>
<rect x="197.85" y="2078.90" width="8.0" height="10.20" rx="3" fill="#ff0000"/>
<rect x="211.99" y="2078.90" width="8.0" height="129.97" rx="3" fill="#ff0000"/>
<rect x="230.18" y="1875.94" width="8.0" height="205.16" rx="3" fill="#0000ff"/>
<rect x="244.32" y="2012.82" width="8.0" height="68.28" rx="3" fill="#0000ff"/>
<rect x="258.47" y="2071.85" width="8.0" height="9.25" rx="3" fill="#0000ff"/>
<rect x="272.61" y="2067.57" width="8.0" height="13.53" rx="3" fill="#0000ff"/>
<rect x="286.75" y="2056.45" width="8.0" height="24.65" rx="3" fill="#0000ff"/>
<rect x="296.85" y="2078.90" width="8.0" height="69.23" rx="3" fill="#ff0000"/>
<rect x="315.04" y="2037.63" width="8.0" height="43.48" rx="3" fill="#0000ff"/>
<rect x="329.19" y="2067.57" width="8.0" height="13.53" rx="3" fill="#0000ff"/>
<rect x="339.29" y="2078.90" width="8.0" height="109.44" rx="3" fill="#ff0000"/>
<rect x="357.47" y="1961.49" width="8.0" height="119.61" rx="3" fill="#0000ff"/>
<rect x="371.62" y="1978.60" width="8.0" height="102.50" rx="3" fill="#0000ff"/>
<rect x="381.72" y="2078.90" width="8.0" height="33.30" rx="3" fill="#ff0000"/>
<rect x="395.86" y="2078.90" width="8.0" height="91.47" rx="3" fill="#ff0000"/>
<rect x="414.05" y="2007.68" width="8.0" height="73.42" rx="3" fill="#0000ff"/>
<rect x="428.19" y="1999.98" width="8.0" height="81.12" rx="3" fill="#0000ff"/>
<rect x="442.34" y="2029.93" width="8.0" height="51.17" rx="3" fill="#0000ff"/>
<rect x="456.48" y="2068.42" width="8.0" height="12.68" rx="3" fill="#0000ff"/>
<rect x="470.63" y="1993.99" width="8.0" height="87.11" rx="3" fill="#0000ff"/>
<rect x="480.73" y="2078.90" width="8.0" height="103.45" rx="3" fill="#ff0000"/>
<rect x="494.87" y="2078.90" width="8.0" height="72.65" rx="3" fill="#ff0000"/>
<rect x="513.06" y="2004.26" width="8.0" height="76.84" rx="3" fill="#0000ff"/>
<rect x="527.20" y="1935.82" width="8.0" height="145.28" rx="3" fill="#0000ff"/>
<rect x="537.30" y="2078.90" width="8.0" height="144.51" rx="3" fill="#ff0000"/>
<rect x="555.49" y="2006.83" width="8.0" height="74.27" rx="3" fill="#0000ff"/>
<rect x="569.63" y="1913.58" width="8.0" height="167.52" rx="3" fill="#0000ff"/>
<rect x="579.73" y="2078.90" width="8.0" height="59.82" rx="3" fill="#ff0000"/>
<rect x="597.92" y="1894.76" width="8.0" height="186.34" rx="3" fill="#0000ff"/>
<rect x="612.07" y="2070.99" width="8.0" height="10.11" rx="3" fill="#0000ff"/>
<rect x="626.21" y="1979.45" width="8.0" height="101.65" rx="3" fill="#0000ff"/>
<rect x="640.35" y="2001.69" width="8.0" height="79.41" rx="3" fill="#0000ff"/>
<rect x="654.50" y="2070.13" width="8.0" height="10.97" rx="3" fill="#0000ff"/>
<rect x="668.64" y="2014.53" width="8.0" height="66.57" rx="3" fill="#0000ff"/>
<rect x="678.74" y="2078.90" width="8.0" height="100.88" rx="3" fill="#ff0000"/>
<rect x="696.93" y="1914.43" width="8.0" height="166.67" rx="3" fill="#0000ff"/>
<rect x="711.07" y="2023.08" width="8.0" height="58.02" rx="3" fill="#0000ff"/>
<rect x="725.22" y="1989.72" width="8.0" height="91.38" rx="3" fill="#0000ff"/>
<rect x="735.32" y="2078.90" width="8.0" height="12.77" rx="3" fill="#ff0000"/>
<rect x="753.51" y="1961.49" width="8.0" height="119.61" rx="3" fill="#0000ff"/>
<rect x="767.65" y="1998.27" width="8.0" height="82.83" rx="3" fill="#0000ff"/>
<rect x="781.79" y="2070.99" width="8.0" height="10.11" rx="3" fill="#0000ff"/>
<rect x="795.94" y="2058.16" width="8.0" height="22.94" rx="3" fill="#0000ff"/>
<rect x="810.08" y="2035.06" width="8.0" height="46.04" rx="3" fill="#0000ff"/>
<rect x="824.23" y="2011.10" width="8.0" height="70.00" rx="3" fill="#0000ff"/>
<rect x="838.37" y="1908.44" width="8.0" height="172.66" rx="3" fill="#0000ff"/>
<rect x="852.51" y="1919.57" width="8.0" height="161.53" rx="3" fill="#0000ff"/>
<rect x="866.66" y="2003.41" width="8.0" height="77.70" rx="3" fill="#0000ff"/>
<rect x="876.76" y="2078.90" width="8.0" height="69.23" rx="3" fill="#ff0000"/>
<rect x="894.95" y="2054.74" width="8.0" height="26.36" rx="3" fill="#0000ff"/>
<rect x="909.09" y="1983.73" width="8.0" height="97.37" rx="3" fill="#0000ff"/>
<rect x="919.19" y="2078.90" width="8.0" height="100.88" rx="3" fill="#ff0000"/>
<rect x="937.38" y="2062.43" width="8.0" height="18.67" rx="3" fill="#0000ff"/>
<rect x="947.48" y="2078.90" width="8.0" height="64.95" rx="3" fill="#ff0000"/>
<rect x="965.67" y="2046.18" width="8.0" height="34.92" rx="3" fill="#0000ff"/>
<rect x="979.81" y="2064.15" width="8.0" height="16.95" rx="3" fill="#0000ff"/>
<rect x="993.95" y="1958.92" width="8.0" height="122.18" rx="3" fill="#0000ff"/>
<rect x="1008.10" y="2011.10" width="8.0" height="70.00" rx="3" fill="#0000ff"/>
<rect x="1022.24" y="2017.09" width="8.0" height="64.01" rx="3" fill="#0000ff"/>
<rect x="1032.34" y="2078.90" width="8.0" height="69.23" rx="3" fill="#ff0000"/>
<rect x="1050.53" y="1990.57" width="8.0" height="90.53" rx="3" fill="#0000ff"/>
<rect x="1064.67" y="2056.45" width="8.0" height="24.65" rx="3" fill="#0000ff"/>
<rect x="1078.82" y="2045.32" width="8.0" height="35.78" rx="3" fill="#0000ff"/>
<rect x="1092.96" y="2043.61" width="8.0" height="37.49" rx="3" fill="#0000ff"/>
<rect x="1107.11" y="2003.41" width="8.0" height="77.70" rx="3" fill="#0000ff"/>
<rect x="1121.25" y="1952.93" width="8.0" height="128.17" rx="3" fill="#0000ff"/>
<rect x="1135.39" y="2058.16" width="8.0" height="22.94" rx="3" fill="#0000ff"/>
<rect x="1149.54" y="1873.37" width="8.0" height="207.73" rx="3" fill="#0000ff"/>
<rect x="1163.68" y="2046.18" width="8.0" height="34.92" rx="3" fill="#0000ff"/>
<rect x="1177.83" y="2035.91" width="8.0" height="45.19" rx="3" fill="#0000ff"/>
<rect x="1191.97" y="2065.86" width="8.0" height="15.24" rx="3" fill="#0000ff"/>
<rect x="1206.11" y="2026.50" width="8.0" height="54.60" rx="3" fill="#0000ff"/>
<rect x="1216.21" y="2078.90" width="8.0" height="12.77" rx="3" fill="#ff0000"/>
<rect x="1230.36" y="2078.90" width="8.0" height="69.23" rx="3" fill="#ff0000"/>
<rect x="1244.50" y="2078.90" width="8.0" height="109.44" rx="3" fill="#ff0000"/>
<rect x="1258.65" y="2078.90" width="8.0" height="307.06" rx="3" fill="#ff0000"/>
<rect x="1276.83" y="2051.31" width="8.0" height="29.79" rx="3" fill="#0000ff"/>
<rect x="1286.93" y="2078.90" width="8.0" height="7.63" rx="3" fill="#ff0000"/>
<rect x="1301.08" y="2078.90" width="8.0" height="54.69" rx="3" fill="#ff0000"/>
<rect x="1319.27" y="2038.48" width="8.0" height="42.62" rx="3" fill="#0000ff"/>
<rect x="1329.37" y="2078.90" width="8.0" height="41.85" rx="3" fill="#ff0000"/>
<rect x="1347.55" y="2048.75" width="8.0" height="32.35" rx="3" fill="#0000ff"/>
<rect x="1361.70" y="2008.54" width="8.0" height="72.56" rx="3" fill="#0000ff"/>
<rect x="1371.80" y="2078.90" width="8.0" height="35.01" rx="3" fill="#ff0000"/>
<rect x="1385.94" y="2078.90" width="8.0" height="119.70" rx="3" fill="#ff0000"/>
<rect x="1400.09" y="2078.90" width="8.0" height="106.02" rx="3" fill="#ff0000"/>
<rect x="1414.23" y="2078.90" width="8.0" height="131.68" rx="3" fill="#ff0000"/>
<rect x="1428.37" y="2078.90" width="8.0" height="32.44" rx="3" fill="#ff0000"/>
<rect x="1442.52" y="2078.90" width="8.0" height="123.98" rx="3" fill="#ff0000"/>
<rect x="1460.71" y="2035.91" width="8.0" height="45.19" rx="3" fill="#0000ff"/>
<rect x="1474.85" y="1900.75" width="8.0" height="180.36" rx="3" fill="#0000ff"/>
<rect x="1488.99" y="2063.29" width="8.0" height="17.81" rx="3" fill="#0000ff"/>
<rect x="1499.09" y="2078.90" width="8.0" height="63.24" rx="3" fill="#ff0000"/>
<rect x="1517.28" y="1977.74" width="8.0" height="103.36" rx="3" fill="#0000ff"/>
<rect x="1531.43" y="2041.90" width="8.0" height="39.20" rx="3" fill="#0000ff"/>
<rect x="1545.57" y="2001.69" width="8.0" height="79.41" rx="3" fill="#0000ff"/>
<rect x="1559.71" y="1911.87" width="8.0" height="169.23" rx="3" fill="#0000ff"/>
<rect x="1573.86" y="2056.45" width="8.0" height="24.65" rx="3" fill="#0000ff"/>
<rect x="1588.00" y="2070.99" width="8.0" height="10.11" rx="3" fill="#0000ff"/>
<rect x="1602.15" y="2058.16" width="8.0" height="22.94" rx="3" fill="#0000ff"/>
<rect x="1612.25" y="2078.90" width="8.0" height="41.00" rx="3" fill="#ff0000"/>
<rect x="1626.39" y="2078.90" width="8.0" height="48.70" rx="3" fill="#ff0000"/>
<rect x="1640.53" y="2078.90" width="8.0" height="76.93" rx="3" fill="#ff0000"/>
<rect x="1654.68" y="2078.90" width="8.0" height="53.83" rx="3" fill="#ff0000"/>
<rect x="1668.82" y="2078.90" width="8.0" height="94.04" rx="3" fill="#ff0000"/>
<rect x="1687.01" y="2017.95" width="8.0" height="63.15" rx="3" fill="#0000ff"/>
<rect x="1701.15" y="2003.41" width="8.0" height="77.70" rx="3" fill="#0000ff"/>
<rect x="1715.30" y="2063.29" width="8.0" height="17.81" rx="3" fill="#0000ff"/>
<rect x="1729.44" y="2050.46" width="8.0" height="30.64" rx="3" fill="#0000ff"/>
<rect x="1739.54" y="2078.90" width="8.0" height="7.63" rx="3" fill="#ff0000"/>
<rect x="1753.69" y="2078.90" width="8.0" height="33.30" rx="3" fill="#ff0000"/>
<rect x="1767.83" y="2078.90" width="8.0" height="65.81" rx="3" fill="#ff0000"/>
<rect x="1781.97" y="2078.90" width="8.0" height="60.67" rx="3" fill="#ff0000"/>
<rect x="1796.12" y="2078.90" width="8.0" height="111.15" rx="3" fill="#ff0000"/>
<rect x="1814.31" y="1986.30" width="8.0" height="94.81" rx="3" fill="#0000ff"/>
<rect x="1824.41" y="2078.90" width="8.0" height="118.85" rx="3" fill="#ff0000"/>
<rect x="1838.55" y="2078.90" width="8.0" height="70.94" rx="3" fill="#ff0000"/>
<rect x="1852.69" y="2078.90" width="8.0" height="8.49" rx="3" fill="#ff0000"/>
<rect x="1866.84" y="2078.90" width="8.0" height="65.81" rx="3" fill="#ff0000"/>
<rect x="1880.98" y="2078.90" width="8.0" height="192.42" rx="3" fill="#ff0000"/>
<rect x="1895.13" y="2078.90" width="8.0" height="14.48" rx="3" fill="#ff0000"/>
<rect x="1913.31" y="1952.08" width="8.0" height="129.03" rx="3" fill="#0000ff"/>
<rect x="1927.46" y="2023.08" width="8.0" height="58.02" rx="3" fill="#0000ff"/>
<rect x="1937.56" y="2078.90" width="8.0" height="31.59" rx="3" fill="#ff0000"/>
<rect x="1951.70" y="2078.90" width="8.0" height="18.75" rx="3" fill="#ff0000"/>
<rect x="1965.85" y="2078.90" width="8.0" height="5.07" rx="3" fill="#ff0000"/>
<rect x="1984.03" y="2017.09" width="8.0" height="64.01" rx="3" fill="#0000ff"/>
<rect x="1994.13" y="2078.90" width="8.0" height="94.04" rx="3" fill="#ff0000"/>
<rect x="2008.28" y="2078.90" width="8.0" height="94.04" rx="3" fill="#ff0000"/>
<rect x="2022.42" y="2078.90" width="8.0" height="4.21" rx="3" fill="#ff0000"/>
<rect x="2040.61" y="2057.30" width="8.0" height="23.80" rx="3" fill="#0000ff"/>
<rect x="2050.71" y="2078.90" width="8.0" height="87.19" rx="3" fill="#ff0000"/>
<rect x="2068.90" y="1999.98" width="8.0" height="81.12" rx="3" fill="#0000ff"/>
<rect x="2079.00" y="2078.90" width="8.0" height="77.78" rx="3" fill="#ff0000"/>
<rect x="2097.19" y="2077.83" width="8.0" height="3.27" rx="3" fill="#0000ff"/>
<rect x="2107.29" y="2078.90" width="8.0" height="87.19" rx="3" fill="#ff0000"/>
<rect x="2121.43" y="2078.90" width="8.0" height="47.84" rx="3" fill="#ff0000"/>
<rect x="2135.57" y="2078.90" width="8.0" height="129.97" rx="3" fill="#ff0000"/>
<rect x="2149.72" y="2078.90" width="8.0" height="97.46" rx="3" fill="#ff0000"/>
<rect x="2167.91" y="2037.63" width="8.0" height="43.48" rx="3" fill="#0000ff"/>
<rect x="2182.05" y="1888.77" width="8.0" height="192.33" rx="3" fill="#0000ff"/>
<rect x="2192.15" y="2078.90" width="8.0" height="163.33" rx="3" fill="#ff0000"/>
<rect x="2210.34" y="2058.16" width="8.0" height="22.94" rx="3" fill="#0000ff"/>
<rect x="2224.48" y="2041.90" width="8.0" height="39.20" rx="3" fill="#0000ff"/>
<rect x="2238.63" y="1922.13" width="8.0" height="158.97" rx="3" fill="#0000ff"/>
<rect x="2248.73" y="2078.90" width="8.0" height="17.90" rx="3" fill="#ff0000"/>
<rect x="2266.91" y="2026.50" width="8.0" height="54.60" rx="3" fill="#0000ff"/>
<rect x="2277.01" y="2078.90" width="8.0" height="58.11" rx="3" fill="#ff0000"/>
<rect x="2291.16" y="2078.90" width="8.0" height="23.89" rx="3" fill="#ff0000"/>
<rect x="2309.35" y="2017.95" width="8.0" height="63.15" rx="3" fill="#0000ff"/>
<rect x="2323.49" y="2000.84" width="8.0" height="80.26" rx="3" fill="#0000ff"/>
<rect x="2333.59" y="2078.90" width="8.0" height="20.47" rx="3" fill="#ff0000"/>
<rect x="2347.73" y="2078.90" width="8.0" height="112.86" rx="3" fill="#ff0000"/>
<rect x="2365.92" y="2041.90" width="8.0" height="39.20" rx="3" fill="#0000ff"/>
<rect x="2380.07" y="2003.41" width="8.0" height="77.70" rx="3" fill="#0000ff"/>
<line x1="154.6" y1="1909.0" x2="2389.0" y2="1909.0" stroke="#000" stroke-width="2.2"/>
<line x1="154.6" y1="2250.8" x2="2389.0" y2="2250.8" stroke="#000" stroke-width="2.2"/>
<line x1="154.6" y1="2081.1" x2="2389.0" y2="2081.1" stroke="#000" stroke-width="2.4"/>
<line x1="139.6" y1="2423.3" x2="154.6" y2="2423.3" stroke="#000" stroke-width="2.4"/>
<text x="110.8" y="2435.9" font-size="43.8" text-anchor="end" fill="#000" textLength="46.0" lengthAdjust="spacingAndGlyphs">−4</text>
<line x1="139.6" y1="2337.8" x2="154.6" y2="2337.8" stroke="#000" stroke-width="2.4"/>
<text x="110.8" y="2350.4" font-size="43.8" text-anchor="end" fill="#000" textLength="46.0" lengthAdjust="spacingAndGlyphs">−3</text>
<line x1="139.6" y1="2252.2" x2="154.6" y2="2252.2" stroke="#000" stroke-width="2.4"/>
<text x="110.8" y="2264.8" font-size="43.8" text-anchor="end" fill="#000" textLength="46.0" lengthAdjust="spacingAndGlyphs">−2</text>
<line x1="139.6" y1="2166.7" x2="154.6" y2="2166.7" stroke="#000" stroke-width="2.4"/>
<text x="110.8" y="2179.3" font-size="43.8" text-anchor="end" fill="#000" textLength="46.0" lengthAdjust="spacingAndGlyphs">−1</text>
<line x1="139.6" y1="2081.1" x2="154.6" y2="2081.1" stroke="#000" stroke-width="2.4"/>
<text x="110.8" y="2093.7" font-size="43.8" text-anchor="end" fill="#000" textLength="22.5" lengthAdjust="spacingAndGlyphs">0</text>
<line x1="139.6" y1="1995.6" x2="154.6" y2="1995.6" stroke="#000" stroke-width="2.4"/>
<text x="110.8" y="2008.2" font-size="43.8" text-anchor="end" fill="#000" textLength="22.5" lengthAdjust="spacingAndGlyphs">1</text>
<line x1="139.6" y1="1910.0" x2="154.6" y2="1910.0" stroke="#000" stroke-width="2.4"/>
<text x="110.8" y="1922.6" font-size="43.8" text-anchor="end" fill="#000" textLength="22.5" lengthAdjust="spacingAndGlyphs">2</text>
<line x1="139.6" y1="1824.5" x2="154.6" y2="1824.5" stroke="#000" stroke-width="2.4"/>
<text x="110.8" y="1837.1" font-size="43.8" text-anchor="end" fill="#000" textLength="22.5" lengthAdjust="spacingAndGlyphs">3</text>
<line x1="139.6" y1="1738.9" x2="154.6" y2="1738.9" stroke="#000" stroke-width="2.4"/>
<text x="110.8" y="1751.5" font-size="43.8" text-anchor="end" fill="#000" textLength="22.5" lengthAdjust="spacingAndGlyphs">4</text>
<line x1="237.6" y1="2412.3" x2="237.6" y2="2434.3" stroke="#000" stroke-width="2.4"/>
<line x1="560.3" y1="2412.3" x2="560.3" y2="2434.3" stroke="#000" stroke-width="2.4"/>
<line x1="916.7" y1="2412.3" x2="916.7" y2="2434.3" stroke="#000" stroke-width="2.4"/>
<line x1="1239.5" y1="2412.3" x2="1239.5" y2="2434.3" stroke="#000" stroke-width="2.4"/>
<line x1="1586.0" y1="2412.3" x2="1586.0" y2="2434.3" stroke="#000" stroke-width="2.4"/>
<line x1="1926.4" y1="2412.3" x2="1926.4" y2="2434.3" stroke="#000" stroke-width="2.4"/>
<line x1="2260.7" y1="2412.3" x2="2260.7" y2="2434.3" stroke="#000" stroke-width="2.4"/>
<text x="162.0" y="2498.0" font-size="43.8" text-anchor="middle" fill="#000" textLength="94.0" lengthAdjust="spacingAndGlyphs">1867</text>
<text x="515.4" y="2498.0" font-size="43.8" text-anchor="middle" fill="#000" textLength="94.0" lengthAdjust="spacingAndGlyphs">1892</text>
<text x="869.0" y="2498.0" font-size="43.8" text-anchor="middle" fill="#000" textLength="94.0" lengthAdjust="spacingAndGlyphs">1917</text>
<text x="1222.0" y="2498.0" font-size="43.8" text-anchor="middle" fill="#000" textLength="94.0" lengthAdjust="spacingAndGlyphs">1942</text>
<text x="1576.0" y="2498.0" font-size="43.8" text-anchor="middle" fill="#000" textLength="94.0" lengthAdjust="spacingAndGlyphs">1967</text>
<text x="1930.0" y="2498.0" font-size="43.8" text-anchor="middle" fill="#000" textLength="94.0" lengthAdjust="spacingAndGlyphs">1992</text>
<text x="2283.0" y="2498.0" font-size="43.8" text-anchor="middle" fill="#000" textLength="94.0" lengthAdjust="spacingAndGlyphs">2017</text>
<line x1="1322.0" y1="329.19" x2="2347.0" y2="371.60" stroke="#000" stroke-width="3.4" stroke-dasharray="7 7.7" stroke-linecap="round"/>
<line x1="162.0" y1="2024.38" x2="2381.0" y2="2057.15" stroke="#000" stroke-width="3.6" stroke-dasharray="7.4 7.4" stroke-linecap="round"/>
<text x="192.7" y="98.6" font-size="37.0" text-anchor="start" fill="#000" textLength="106.5" lengthAdjust="spacingAndGlyphs">winter</text>
<text x="1358.1" y="111.0" font-size="37.0" text-anchor="start" fill="#000" textLength="99.2" lengthAdjust="spacingAndGlyphs">spring</text>
<text x="194.0" y="930.4" font-size="37.0" text-anchor="start" fill="#000" textLength="133.3" lengthAdjust="spacingAndGlyphs">summer</text>
<text x="1364.6" y="920.3" font-size="37.0" text-anchor="start" fill="#000" textLength="124.4" lengthAdjust="spacingAndGlyphs">autumn</text>
<text x="0" y="0" font-size="58.0" text-anchor="middle" textLength="106.5" lengthAdjust="spacingAndGlyphs" transform="translate(63.0,409.5) rotate(-90)">SPI3</text>
<text x="0" y="0" font-size="58.0" text-anchor="middle" textLength="106.0" lengthAdjust="spacingAndGlyphs" transform="translate(64.4,1241.2) rotate(-90)">SPI3</text>
<text x="0" y="0" font-size="58.0" text-anchor="middle" textLength="138.0" lengthAdjust="spacingAndGlyphs" transform="translate(74.0,2081.0) rotate(-90)">SPI12</text>
<line x1="1887.2" y1="111.3" x2="1953.3" y2="111.3" stroke="#000" stroke-width="2.6" stroke-dasharray="7.2 2.6"/>
<text x="1973.0" y="118.1" font-size="31.5" text-anchor="start" fill="#000" textLength="45.5" lengthAdjust="spacingAndGlyphs">m=</text>
<text x="2018.3" y="118.1" font-size="31.5" text-anchor="start" fill="#000" textLength="14.0" lengthAdjust="spacingAndGlyphs">–</text>
<text x="2035.3" y="118.1" font-size="31.5" text-anchor="start" fill="#000" textLength="99.0" lengthAdjust="spacingAndGlyphs">0.0047</text>
<text x="2162.6" y="118.1" font-size="31.5" text-anchor="start" fill="#000" textLength="17.0" lengthAdjust="spacingAndGlyphs">R</text>
<text x="2180.8" y="105.6" font-size="21" text-anchor="start" fill="#000" textLength="12.0" lengthAdjust="spacingAndGlyphs">2</text>
<text x="2193.6" y="118.1" font-size="31.5" text-anchor="start" fill="#000" textLength="98.0" lengthAdjust="spacingAndGlyphs">=0.034</text>
<line x1="306" y1="2351.6" x2="431.7" y2="2351.6" stroke="#000" stroke-width="2.7" stroke-dasharray="7.4 2.46"/>
<text x="460.5" y="2367.8" font-size="31.5" text-anchor="start" fill="#000" textLength="45.0" lengthAdjust="spacingAndGlyphs">m=</text>
<text x="506.4" y="2367.8" font-size="31.5" text-anchor="start" fill="#000" textLength="14.0" lengthAdjust="spacingAndGlyphs">–</text>
<text x="525.7" y="2367.8" font-size="31.5" text-anchor="start" fill="#000" textLength="100.5" lengthAdjust="spacingAndGlyphs">0.0047</text>
<text x="650.0" y="2367.8" font-size="31.5" text-anchor="start" fill="#000" textLength="17.0" lengthAdjust="spacingAndGlyphs">R</text>
<text x="670.2" y="2355.3" font-size="21" text-anchor="start" fill="#000" textLength="9.5" lengthAdjust="spacingAndGlyphs">2</text>
<text x="680.9" y="2367.8" font-size="31.5" text-anchor="start" fill="#000" textLength="97.6" lengthAdjust="spacingAndGlyphs">=0.043</text>
<text x="198.9" y="1853.5" font-size="30.5" text-anchor="start" fill="#0000ff" textLength="72.3" lengthAdjust="spacingAndGlyphs">1873</text>
<text x="578.5" y="1854.0" font-size="30.5" text-anchor="start" fill="#0000ff" textLength="74.1" lengthAdjust="spacingAndGlyphs">1898</text>
<text x="813.5" y="1854.0" font-size="30.5" text-anchor="start" fill="#0000ff" textLength="72.6" lengthAdjust="spacingAndGlyphs">1915</text>
<text x="1121.0" y="1854.0" font-size="30.5" text-anchor="start" fill="#0000ff" textLength="73.0" lengthAdjust="spacingAndGlyphs">1937</text>
<text x="1435.9" y="1854.2" font-size="30.5" text-anchor="start" fill="#0000ff" textLength="75.0" lengthAdjust="spacingAndGlyphs">1960</text>
<text x="2148.5" y="1854.2" font-size="30.5" text-anchor="start" fill="#0000ff" textLength="74.5" lengthAdjust="spacingAndGlyphs">2010</text>
<text x="1275.3" y="2324.0" font-size="30.5" text-anchor="start" fill="#ff0000" textLength="73.3" lengthAdjust="spacingAndGlyphs">1945</text>
<text x="1842.2" y="2324.0" font-size="30.5" text-anchor="start" fill="#ff0000" textLength="73.0" lengthAdjust="spacingAndGlyphs">1989</text>
</svg>
</body></html>
